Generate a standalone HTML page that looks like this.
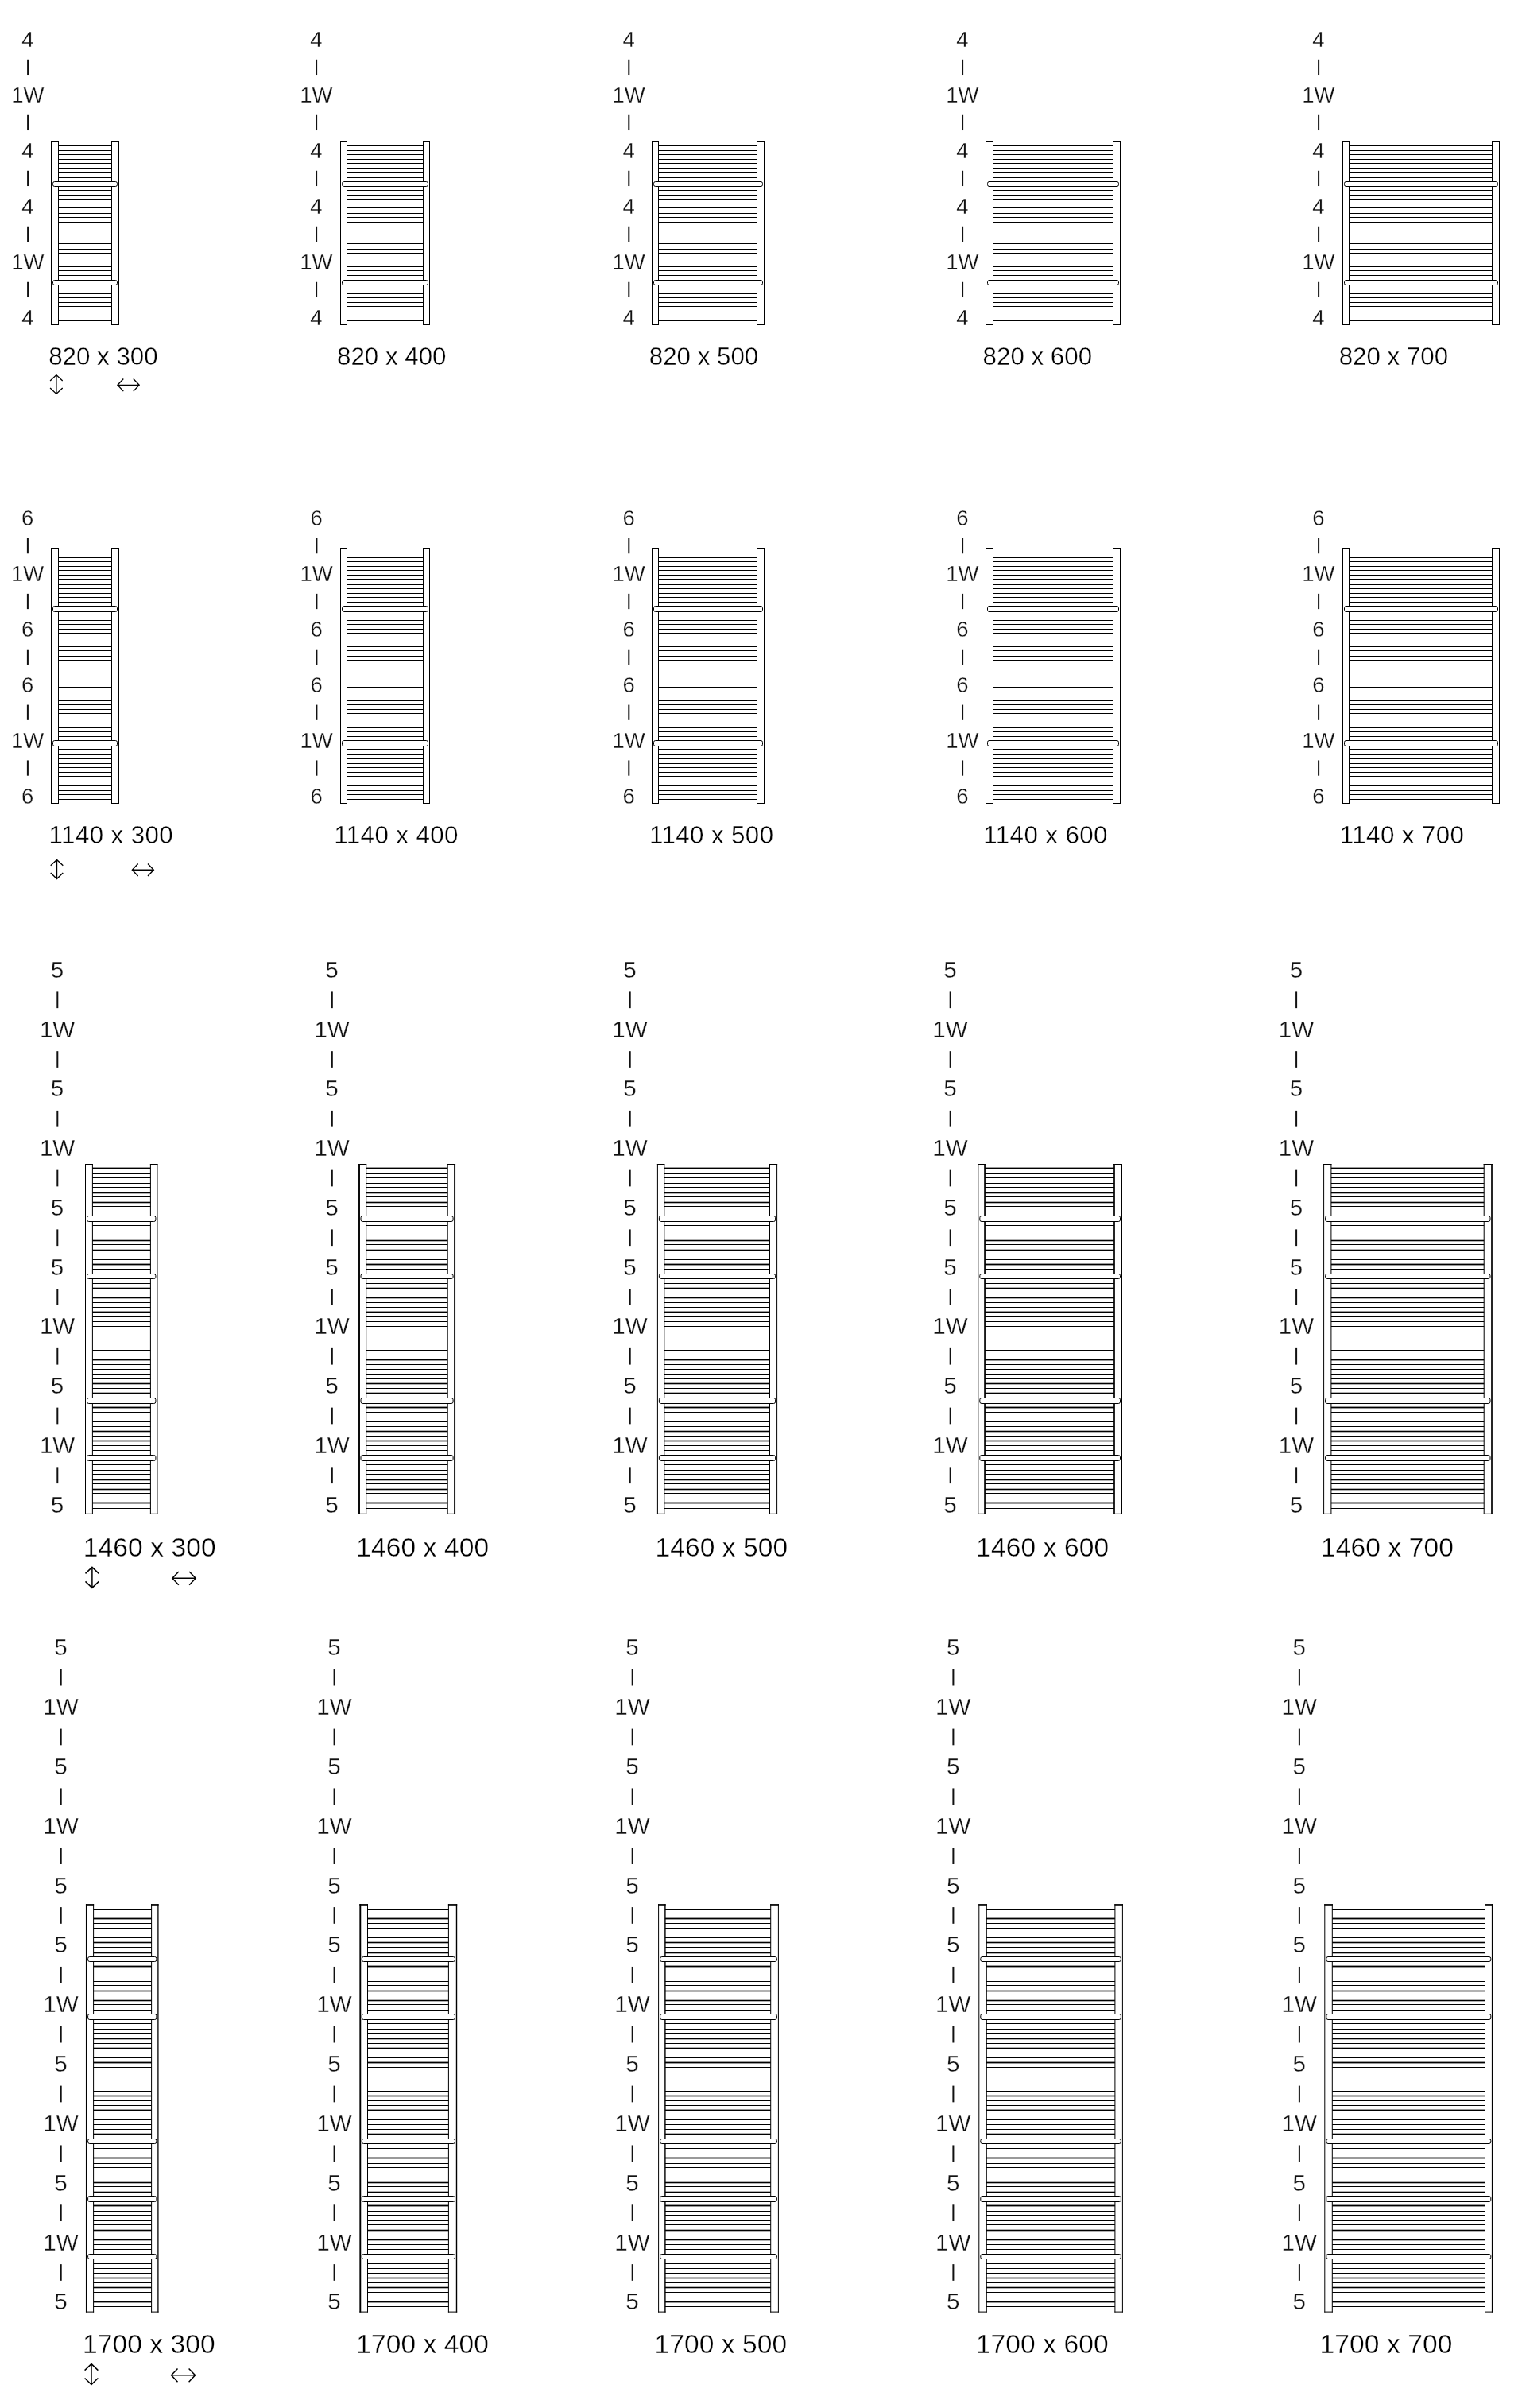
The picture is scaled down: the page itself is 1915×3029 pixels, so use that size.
<!DOCTYPE html>
<html lang="en">
<head>
<meta charset="utf-8">
<title>Towel radiator tube layouts</title>
<style>
html,body{margin:0;padding:0;background:#fff;}
body{position:relative;width:1915px;height:3029px;overflow:hidden;font-family:"Liberation Sans",sans-serif;}
svg{display:block;position:absolute;left:0;top:0;}
text{font-family:"Liberation Sans",sans-serif;fill:#111;}
g.t{filter:grayscale(1);}
text.lab{stroke:#fff;stroke-width:0.3px;}
text.dim{stroke:#fff;stroke-width:0.35px;fill:#000;}
</style>
</head>
<body>
<svg width="1915" height="3029" viewBox="0 0 1915 3029">
<rect x="0" y="0" width="1915" height="3029" fill="#fff"/>
<g>
<rect x="64" y="177" width="1" height="232" fill="#000"/>
<rect x="73" y="177" width="1" height="232" fill="#000"/>
<rect x="140" y="177" width="1" height="232" fill="#000"/>
<rect x="149" y="177" width="1" height="232" fill="#000"/>
<rect x="64" y="177" width="10" height="1" fill="#000"/>
<rect x="64" y="408" width="10" height="1" fill="#000"/>
<rect x="140" y="177" width="10" height="1" fill="#000"/>
<rect x="140" y="408" width="10" height="1" fill="#000"/>
<rect x="73.5" y="183" width="67" height="1" fill="#000"/>
<rect x="73.5" y="189" width="67" height="1" fill="#000"/>
<rect x="73.5" y="194" width="67" height="1" fill="#000"/>
<rect x="73.5" y="200" width="67" height="1" fill="#000"/>
<rect x="73.5" y="205" width="67" height="1" fill="#000"/>
<rect x="73.5" y="211" width="67" height="1" fill="#000"/>
<rect x="73.5" y="216" width="67" height="1" fill="#000"/>
<rect x="73.5" y="223" width="67" height="1" fill="#000"/>
<rect x="73.5" y="239" width="67" height="1" fill="#000"/>
<rect x="73.5" y="245" width="67" height="1" fill="#000"/>
<rect x="73.5" y="250" width="67" height="1" fill="#000"/>
<rect x="73.5" y="256" width="67" height="1" fill="#000"/>
<rect x="73.5" y="261" width="67" height="1" fill="#000"/>
<rect x="73.5" y="268" width="67" height="1" fill="#000"/>
<rect x="73.5" y="273" width="67" height="1" fill="#000"/>
<rect x="73.5" y="279" width="67" height="1" fill="#000"/>
<rect x="73.5" y="306" width="67" height="1" fill="#000"/>
<rect x="73.5" y="313" width="67" height="1" fill="#000"/>
<rect x="73.5" y="318" width="67" height="1" fill="#000"/>
<rect x="73.5" y="324" width="67" height="1" fill="#000"/>
<rect x="73.5" y="329" width="67" height="1" fill="#000"/>
<rect x="73.5" y="335" width="67" height="1" fill="#000"/>
<rect x="73.5" y="340" width="67" height="1" fill="#000"/>
<rect x="73.5" y="346" width="67" height="1" fill="#000"/>
<rect x="73.5" y="363" width="67" height="1" fill="#000"/>
<rect x="73.5" y="369" width="67" height="1" fill="#000"/>
<rect x="73.5" y="374" width="67" height="1" fill="#000"/>
<rect x="73.5" y="380" width="67" height="1" fill="#000"/>
<rect x="73.5" y="385" width="67" height="1" fill="#000"/>
<rect x="73.5" y="392" width="67" height="1" fill="#000"/>
<rect x="73.5" y="397" width="67" height="1" fill="#000"/>
<rect x="73.5" y="403" width="67" height="1" fill="#000"/>
<rect x="66.5" y="228.5" width="81" height="6" rx="2.2" ry="2.2" fill="#fff" stroke="#000" stroke-width="1"/>
<rect x="66.5" y="352.5" width="81" height="6" rx="2.2" ry="2.2" fill="#fff" stroke="#000" stroke-width="1"/>
<rect x="428" y="177" width="1" height="232" fill="#000"/>
<rect x="436" y="177" width="1" height="232" fill="#000"/>
<rect x="532" y="177" width="1" height="232" fill="#000"/>
<rect x="540" y="177" width="1" height="232" fill="#000"/>
<rect x="428" y="177" width="9" height="1" fill="#000"/>
<rect x="428" y="408" width="9" height="1" fill="#000"/>
<rect x="532" y="177" width="9" height="1" fill="#000"/>
<rect x="532" y="408" width="9" height="1" fill="#000"/>
<rect x="436.5" y="183" width="96" height="1" fill="#000"/>
<rect x="436.5" y="189" width="96" height="1" fill="#000"/>
<rect x="436.5" y="194" width="96" height="1" fill="#000"/>
<rect x="436.5" y="200" width="96" height="1" fill="#000"/>
<rect x="436.5" y="205" width="96" height="1" fill="#000"/>
<rect x="436.5" y="211" width="96" height="1" fill="#000"/>
<rect x="436.5" y="216" width="96" height="1" fill="#000"/>
<rect x="436.5" y="223" width="96" height="1" fill="#000"/>
<rect x="436.5" y="239" width="96" height="1" fill="#000"/>
<rect x="436.5" y="245" width="96" height="1" fill="#000"/>
<rect x="436.5" y="250" width="96" height="1" fill="#000"/>
<rect x="436.5" y="256" width="96" height="1" fill="#000"/>
<rect x="436.5" y="261" width="96" height="1" fill="#000"/>
<rect x="436.5" y="268" width="96" height="1" fill="#000"/>
<rect x="436.5" y="273" width="96" height="1" fill="#000"/>
<rect x="436.5" y="279" width="96" height="1" fill="#000"/>
<rect x="436.5" y="306" width="96" height="1" fill="#000"/>
<rect x="436.5" y="313" width="96" height="1" fill="#000"/>
<rect x="436.5" y="318" width="96" height="1" fill="#000"/>
<rect x="436.5" y="324" width="96" height="1" fill="#000"/>
<rect x="436.5" y="329" width="96" height="1" fill="#000"/>
<rect x="436.5" y="335" width="96" height="1" fill="#000"/>
<rect x="436.5" y="340" width="96" height="1" fill="#000"/>
<rect x="436.5" y="346" width="96" height="1" fill="#000"/>
<rect x="436.5" y="363" width="96" height="1" fill="#000"/>
<rect x="436.5" y="369" width="96" height="1" fill="#000"/>
<rect x="436.5" y="374" width="96" height="1" fill="#000"/>
<rect x="436.5" y="380" width="96" height="1" fill="#000"/>
<rect x="436.5" y="385" width="96" height="1" fill="#000"/>
<rect x="436.5" y="392" width="96" height="1" fill="#000"/>
<rect x="436.5" y="397" width="96" height="1" fill="#000"/>
<rect x="436.5" y="403" width="96" height="1" fill="#000"/>
<rect x="430.5" y="228.5" width="108" height="6" rx="2.2" ry="2.2" fill="#fff" stroke="#000" stroke-width="1"/>
<rect x="430.5" y="352.5" width="108" height="6" rx="2.2" ry="2.2" fill="#fff" stroke="#000" stroke-width="1"/>
<rect x="820" y="177" width="1" height="232" fill="#000"/>
<rect x="828" y="177" width="1" height="232" fill="#000"/>
<rect x="952" y="177" width="1" height="232" fill="#000"/>
<rect x="961" y="177" width="1" height="232" fill="#000"/>
<rect x="820" y="177" width="9" height="1" fill="#000"/>
<rect x="820" y="408" width="9" height="1" fill="#000"/>
<rect x="952" y="177" width="10" height="1" fill="#000"/>
<rect x="952" y="408" width="10" height="1" fill="#000"/>
<rect x="828.5" y="183" width="124" height="1" fill="#000"/>
<rect x="828.5" y="189" width="124" height="1" fill="#000"/>
<rect x="828.5" y="194" width="124" height="1" fill="#000"/>
<rect x="828.5" y="200" width="124" height="1" fill="#000"/>
<rect x="828.5" y="205" width="124" height="1" fill="#000"/>
<rect x="828.5" y="211" width="124" height="1" fill="#000"/>
<rect x="828.5" y="216" width="124" height="1" fill="#000"/>
<rect x="828.5" y="223" width="124" height="1" fill="#000"/>
<rect x="828.5" y="239" width="124" height="1" fill="#000"/>
<rect x="828.5" y="245" width="124" height="1" fill="#000"/>
<rect x="828.5" y="250" width="124" height="1" fill="#000"/>
<rect x="828.5" y="256" width="124" height="1" fill="#000"/>
<rect x="828.5" y="261" width="124" height="1" fill="#000"/>
<rect x="828.5" y="268" width="124" height="1" fill="#000"/>
<rect x="828.5" y="273" width="124" height="1" fill="#000"/>
<rect x="828.5" y="279" width="124" height="1" fill="#000"/>
<rect x="828.5" y="306" width="124" height="1" fill="#000"/>
<rect x="828.5" y="313" width="124" height="1" fill="#000"/>
<rect x="828.5" y="318" width="124" height="1" fill="#000"/>
<rect x="828.5" y="324" width="124" height="1" fill="#000"/>
<rect x="828.5" y="329" width="124" height="1" fill="#000"/>
<rect x="828.5" y="335" width="124" height="1" fill="#000"/>
<rect x="828.5" y="340" width="124" height="1" fill="#000"/>
<rect x="828.5" y="346" width="124" height="1" fill="#000"/>
<rect x="828.5" y="363" width="124" height="1" fill="#000"/>
<rect x="828.5" y="369" width="124" height="1" fill="#000"/>
<rect x="828.5" y="374" width="124" height="1" fill="#000"/>
<rect x="828.5" y="380" width="124" height="1" fill="#000"/>
<rect x="828.5" y="385" width="124" height="1" fill="#000"/>
<rect x="828.5" y="392" width="124" height="1" fill="#000"/>
<rect x="828.5" y="397" width="124" height="1" fill="#000"/>
<rect x="828.5" y="403" width="124" height="1" fill="#000"/>
<rect x="822.5" y="228.5" width="137" height="6" rx="2.2" ry="2.2" fill="#fff" stroke="#000" stroke-width="1"/>
<rect x="822.5" y="352.5" width="137" height="6" rx="2.2" ry="2.2" fill="#fff" stroke="#000" stroke-width="1"/>
<rect x="1240" y="177" width="1" height="232" fill="#000"/>
<rect x="1249" y="177" width="1" height="232" fill="#000"/>
<rect x="1400" y="177" width="1" height="232" fill="#000"/>
<rect x="1409" y="177" width="1" height="232" fill="#000"/>
<rect x="1240" y="177" width="10" height="1" fill="#000"/>
<rect x="1240" y="408" width="10" height="1" fill="#000"/>
<rect x="1400" y="177" width="10" height="1" fill="#000"/>
<rect x="1400" y="408" width="10" height="1" fill="#000"/>
<rect x="1249.5" y="183" width="151" height="1" fill="#000"/>
<rect x="1249.5" y="189" width="151" height="1" fill="#000"/>
<rect x="1249.5" y="194" width="151" height="1" fill="#000"/>
<rect x="1249.5" y="200" width="151" height="1" fill="#000"/>
<rect x="1249.5" y="205" width="151" height="1" fill="#000"/>
<rect x="1249.5" y="211" width="151" height="1" fill="#000"/>
<rect x="1249.5" y="216" width="151" height="1" fill="#000"/>
<rect x="1249.5" y="223" width="151" height="1" fill="#000"/>
<rect x="1249.5" y="239" width="151" height="1" fill="#000"/>
<rect x="1249.5" y="245" width="151" height="1" fill="#000"/>
<rect x="1249.5" y="250" width="151" height="1" fill="#000"/>
<rect x="1249.5" y="256" width="151" height="1" fill="#000"/>
<rect x="1249.5" y="261" width="151" height="1" fill="#000"/>
<rect x="1249.5" y="268" width="151" height="1" fill="#000"/>
<rect x="1249.5" y="273" width="151" height="1" fill="#000"/>
<rect x="1249.5" y="279" width="151" height="1" fill="#000"/>
<rect x="1249.5" y="306" width="151" height="1" fill="#000"/>
<rect x="1249.5" y="313" width="151" height="1" fill="#000"/>
<rect x="1249.5" y="318" width="151" height="1" fill="#000"/>
<rect x="1249.5" y="324" width="151" height="1" fill="#000"/>
<rect x="1249.5" y="329" width="151" height="1" fill="#000"/>
<rect x="1249.5" y="335" width="151" height="1" fill="#000"/>
<rect x="1249.5" y="340" width="151" height="1" fill="#000"/>
<rect x="1249.5" y="346" width="151" height="1" fill="#000"/>
<rect x="1249.5" y="363" width="151" height="1" fill="#000"/>
<rect x="1249.5" y="369" width="151" height="1" fill="#000"/>
<rect x="1249.5" y="374" width="151" height="1" fill="#000"/>
<rect x="1249.5" y="380" width="151" height="1" fill="#000"/>
<rect x="1249.5" y="385" width="151" height="1" fill="#000"/>
<rect x="1249.5" y="392" width="151" height="1" fill="#000"/>
<rect x="1249.5" y="397" width="151" height="1" fill="#000"/>
<rect x="1249.5" y="403" width="151" height="1" fill="#000"/>
<rect x="1242.5" y="228.5" width="165" height="6" rx="2.2" ry="2.2" fill="#fff" stroke="#000" stroke-width="1"/>
<rect x="1242.5" y="352.5" width="165" height="6" rx="2.2" ry="2.2" fill="#fff" stroke="#000" stroke-width="1"/>
<rect x="1689" y="177" width="1" height="232" fill="#000"/>
<rect x="1697" y="177" width="1" height="232" fill="#000"/>
<rect x="1877" y="177" width="1" height="232" fill="#000"/>
<rect x="1886" y="177" width="1" height="232" fill="#000"/>
<rect x="1689" y="177" width="9" height="1" fill="#000"/>
<rect x="1689" y="408" width="9" height="1" fill="#000"/>
<rect x="1877" y="177" width="10" height="1" fill="#000"/>
<rect x="1877" y="408" width="10" height="1" fill="#000"/>
<rect x="1697.5" y="183" width="180" height="1" fill="#000"/>
<rect x="1697.5" y="189" width="180" height="1" fill="#000"/>
<rect x="1697.5" y="194" width="180" height="1" fill="#000"/>
<rect x="1697.5" y="200" width="180" height="1" fill="#000"/>
<rect x="1697.5" y="205" width="180" height="1" fill="#000"/>
<rect x="1697.5" y="211" width="180" height="1" fill="#000"/>
<rect x="1697.5" y="216" width="180" height="1" fill="#000"/>
<rect x="1697.5" y="223" width="180" height="1" fill="#000"/>
<rect x="1697.5" y="239" width="180" height="1" fill="#000"/>
<rect x="1697.5" y="245" width="180" height="1" fill="#000"/>
<rect x="1697.5" y="250" width="180" height="1" fill="#000"/>
<rect x="1697.5" y="256" width="180" height="1" fill="#000"/>
<rect x="1697.5" y="261" width="180" height="1" fill="#000"/>
<rect x="1697.5" y="268" width="180" height="1" fill="#000"/>
<rect x="1697.5" y="273" width="180" height="1" fill="#000"/>
<rect x="1697.5" y="279" width="180" height="1" fill="#000"/>
<rect x="1697.5" y="306" width="180" height="1" fill="#000"/>
<rect x="1697.5" y="313" width="180" height="1" fill="#000"/>
<rect x="1697.5" y="318" width="180" height="1" fill="#000"/>
<rect x="1697.5" y="324" width="180" height="1" fill="#000"/>
<rect x="1697.5" y="329" width="180" height="1" fill="#000"/>
<rect x="1697.5" y="335" width="180" height="1" fill="#000"/>
<rect x="1697.5" y="340" width="180" height="1" fill="#000"/>
<rect x="1697.5" y="346" width="180" height="1" fill="#000"/>
<rect x="1697.5" y="363" width="180" height="1" fill="#000"/>
<rect x="1697.5" y="369" width="180" height="1" fill="#000"/>
<rect x="1697.5" y="374" width="180" height="1" fill="#000"/>
<rect x="1697.5" y="380" width="180" height="1" fill="#000"/>
<rect x="1697.5" y="385" width="180" height="1" fill="#000"/>
<rect x="1697.5" y="392" width="180" height="1" fill="#000"/>
<rect x="1697.5" y="397" width="180" height="1" fill="#000"/>
<rect x="1697.5" y="403" width="180" height="1" fill="#000"/>
<rect x="1691.5" y="228.5" width="193" height="6" rx="2.2" ry="2.2" fill="#fff" stroke="#000" stroke-width="1"/>
<rect x="1691.5" y="352.5" width="193" height="6" rx="2.2" ry="2.2" fill="#fff" stroke="#000" stroke-width="1"/>
</g>
<g class="t">
<text class="lab" x="34.9" y="59.02" font-size="27.5" text-anchor="middle">4</text>
<rect x="34.1" y="74.78" width="2" height="19.25" fill="#111"/>
<text class="lab" x="34.9" y="129.03" font-size="27.5" text-anchor="middle">1W</text>
<rect x="34.1" y="144.78" width="2" height="19.25" fill="#111"/>
<text class="lab" x="34.9" y="199.03" font-size="27.5" text-anchor="middle">4</text>
<rect x="34.1" y="214.78" width="2" height="19.25" fill="#111"/>
<text class="lab" x="34.9" y="269.02" font-size="27.5" text-anchor="middle">4</text>
<rect x="34.1" y="284.77" width="2" height="19.25" fill="#111"/>
<text class="lab" x="34.9" y="339.02" font-size="27.5" text-anchor="middle">1W</text>
<rect x="34.1" y="354.77" width="2" height="19.25" fill="#111"/>
<text class="lab" x="34.9" y="409.02" font-size="27.5" text-anchor="middle">4</text>
<text class="dim" x="61.19" y="458.95" font-size="31.3" letter-spacing="0">820 x 300</text>
<text class="lab" x="397.9" y="59.02" font-size="27.5" text-anchor="middle">4</text>
<rect x="397.1" y="74.78" width="2" height="19.25" fill="#111"/>
<text class="lab" x="397.9" y="129.03" font-size="27.5" text-anchor="middle">1W</text>
<rect x="397.1" y="144.78" width="2" height="19.25" fill="#111"/>
<text class="lab" x="397.9" y="199.03" font-size="27.5" text-anchor="middle">4</text>
<rect x="397.1" y="214.78" width="2" height="19.25" fill="#111"/>
<text class="lab" x="397.9" y="269.02" font-size="27.5" text-anchor="middle">4</text>
<rect x="397.1" y="284.77" width="2" height="19.25" fill="#111"/>
<text class="lab" x="397.9" y="339.02" font-size="27.5" text-anchor="middle">1W</text>
<rect x="397.1" y="354.77" width="2" height="19.25" fill="#111"/>
<text class="lab" x="397.9" y="409.02" font-size="27.5" text-anchor="middle">4</text>
<text class="dim" x="423.99" y="458.95" font-size="31.3" letter-spacing="0">820 x 400</text>
<text class="lab" x="791.1" y="59.02" font-size="27.5" text-anchor="middle">4</text>
<rect x="790.3" y="74.78" width="2" height="19.25" fill="#111"/>
<text class="lab" x="791.1" y="129.03" font-size="27.5" text-anchor="middle">1W</text>
<rect x="790.3" y="144.78" width="2" height="19.25" fill="#111"/>
<text class="lab" x="791.1" y="199.03" font-size="27.5" text-anchor="middle">4</text>
<rect x="790.3" y="214.78" width="2" height="19.25" fill="#111"/>
<text class="lab" x="791.1" y="269.02" font-size="27.5" text-anchor="middle">4</text>
<rect x="790.3" y="284.77" width="2" height="19.25" fill="#111"/>
<text class="lab" x="791.1" y="339.02" font-size="27.5" text-anchor="middle">1W</text>
<rect x="790.3" y="354.77" width="2" height="19.25" fill="#111"/>
<text class="lab" x="791.1" y="409.02" font-size="27.5" text-anchor="middle">4</text>
<text class="dim" x="816.79" y="458.95" font-size="31.3" letter-spacing="0">820 x 500</text>
<text class="lab" x="1210.9" y="59.02" font-size="27.5" text-anchor="middle">4</text>
<rect x="1210.1" y="74.78" width="2" height="19.25" fill="#111"/>
<text class="lab" x="1210.9" y="129.03" font-size="27.5" text-anchor="middle">1W</text>
<rect x="1210.1" y="144.78" width="2" height="19.25" fill="#111"/>
<text class="lab" x="1210.9" y="199.03" font-size="27.5" text-anchor="middle">4</text>
<rect x="1210.1" y="214.78" width="2" height="19.25" fill="#111"/>
<text class="lab" x="1210.9" y="269.02" font-size="27.5" text-anchor="middle">4</text>
<rect x="1210.1" y="284.77" width="2" height="19.25" fill="#111"/>
<text class="lab" x="1210.9" y="339.02" font-size="27.5" text-anchor="middle">1W</text>
<rect x="1210.1" y="354.77" width="2" height="19.25" fill="#111"/>
<text class="lab" x="1210.9" y="409.02" font-size="27.5" text-anchor="middle">4</text>
<text class="dim" x="1236.59" y="458.95" font-size="31.3" letter-spacing="0">820 x 600</text>
<text class="lab" x="1658.9" y="59.02" font-size="27.5" text-anchor="middle">4</text>
<rect x="1658.1" y="74.78" width="2" height="19.25" fill="#111"/>
<text class="lab" x="1658.9" y="129.03" font-size="27.5" text-anchor="middle">1W</text>
<rect x="1658.1" y="144.78" width="2" height="19.25" fill="#111"/>
<text class="lab" x="1658.9" y="199.03" font-size="27.5" text-anchor="middle">4</text>
<rect x="1658.1" y="214.78" width="2" height="19.25" fill="#111"/>
<text class="lab" x="1658.9" y="269.02" font-size="27.5" text-anchor="middle">4</text>
<rect x="1658.1" y="284.77" width="2" height="19.25" fill="#111"/>
<text class="lab" x="1658.9" y="339.02" font-size="27.5" text-anchor="middle">1W</text>
<rect x="1658.1" y="354.77" width="2" height="19.25" fill="#111"/>
<text class="lab" x="1658.9" y="409.02" font-size="27.5" text-anchor="middle">4</text>
<text class="dim" x="1684.69" y="458.95" font-size="31.3" letter-spacing="0">820 x 700</text>
<path d="M70.9 471.8V495.2M63.1 479L70.9 471.6L78.7 479M63.1 488L70.9 495.4L78.7 488M148.1 484.3H175M155.3 476.5L147.9 484.3L155.3 492.1M167.8 476.5L175.2 484.3L167.8 492.1" fill="none" stroke="#000" stroke-width="1.35" stroke-linejoin="miter"/>
</g>
<g>
<rect x="64" y="689" width="1" height="322" fill="#000"/>
<rect x="73" y="689" width="1" height="322" fill="#000"/>
<rect x="140" y="689" width="1" height="322" fill="#000"/>
<rect x="149" y="689" width="1" height="322" fill="#000"/>
<rect x="64" y="689" width="10" height="1" fill="#000"/>
<rect x="64" y="1010" width="10" height="1" fill="#000"/>
<rect x="140" y="689" width="10" height="1" fill="#000"/>
<rect x="140" y="1010" width="10" height="1" fill="#000"/>
<rect x="73.5" y="695" width="67" height="1" fill="#000"/>
<rect x="73.5" y="701" width="67" height="1" fill="#000"/>
<rect x="73.5" y="706" width="67" height="1" fill="#000"/>
<rect x="73.5" y="712" width="67" height="1" fill="#000"/>
<rect x="73.5" y="717" width="67" height="1" fill="#000"/>
<rect x="73.5" y="723" width="67" height="1" fill="#000"/>
<rect x="73.5" y="728" width="67" height="1" fill="#000"/>
<rect x="73.5" y="735" width="67" height="1" fill="#000"/>
<rect x="73.5" y="740" width="67" height="1" fill="#000"/>
<rect x="73.5" y="746" width="67" height="1" fill="#000"/>
<rect x="73.5" y="751" width="67" height="1" fill="#000"/>
<rect x="73.5" y="757" width="67" height="1" fill="#000"/>
<rect x="73.5" y="773" width="67" height="1" fill="#000"/>
<rect x="73.5" y="780" width="67" height="1" fill="#000"/>
<rect x="73.5" y="785" width="67" height="1" fill="#000"/>
<rect x="73.5" y="791" width="67" height="1" fill="#000"/>
<rect x="73.5" y="796" width="67" height="1" fill="#000"/>
<rect x="73.5" y="802" width="67" height="1" fill="#000"/>
<rect x="73.5" y="807" width="67" height="1" fill="#000"/>
<rect x="73.5" y="813" width="67" height="1" fill="#000"/>
<rect x="73.5" y="818" width="67" height="1" fill="#000"/>
<rect x="73.5" y="825" width="67" height="1" fill="#000"/>
<rect x="73.5" y="830" width="67" height="1" fill="#000"/>
<rect x="73.5" y="836" width="67" height="1" fill="#000"/>
<rect x="73.5" y="864" width="67" height="1" fill="#000"/>
<rect x="73.5" y="870" width="67" height="1" fill="#000"/>
<rect x="73.5" y="875" width="67" height="1" fill="#000"/>
<rect x="73.5" y="881" width="67" height="1" fill="#000"/>
<rect x="73.5" y="886" width="67" height="1" fill="#000"/>
<rect x="73.5" y="892" width="67" height="1" fill="#000"/>
<rect x="73.5" y="897" width="67" height="1" fill="#000"/>
<rect x="73.5" y="904" width="67" height="1" fill="#000"/>
<rect x="73.5" y="909" width="67" height="1" fill="#000"/>
<rect x="73.5" y="915" width="67" height="1" fill="#000"/>
<rect x="73.5" y="920" width="67" height="1" fill="#000"/>
<rect x="73.5" y="926" width="67" height="1" fill="#000"/>
<rect x="73.5" y="942" width="67" height="1" fill="#000"/>
<rect x="73.5" y="949" width="67" height="1" fill="#000"/>
<rect x="73.5" y="954" width="67" height="1" fill="#000"/>
<rect x="73.5" y="960" width="67" height="1" fill="#000"/>
<rect x="73.5" y="965" width="67" height="1" fill="#000"/>
<rect x="73.5" y="971" width="67" height="1" fill="#000"/>
<rect x="73.5" y="976" width="67" height="1" fill="#000"/>
<rect x="73.5" y="982" width="67" height="1" fill="#000"/>
<rect x="73.5" y="988" width="67" height="1" fill="#000"/>
<rect x="73.5" y="994" width="67" height="1" fill="#000"/>
<rect x="73.5" y="999" width="67" height="1" fill="#000"/>
<rect x="73.5" y="1005" width="67" height="1" fill="#000"/>
<rect x="66.5" y="762.5" width="81" height="7" rx="2.2" ry="2.2" fill="#fff" stroke="#000" stroke-width="1"/>
<rect x="66.5" y="931.5" width="81" height="7" rx="2.2" ry="2.2" fill="#fff" stroke="#000" stroke-width="1"/>
<rect x="428" y="689" width="1" height="322" fill="#000"/>
<rect x="436" y="689" width="1" height="322" fill="#000"/>
<rect x="532" y="689" width="1" height="322" fill="#000"/>
<rect x="540" y="689" width="1" height="322" fill="#000"/>
<rect x="428" y="689" width="9" height="1" fill="#000"/>
<rect x="428" y="1010" width="9" height="1" fill="#000"/>
<rect x="532" y="689" width="9" height="1" fill="#000"/>
<rect x="532" y="1010" width="9" height="1" fill="#000"/>
<rect x="436.5" y="695" width="96" height="1" fill="#000"/>
<rect x="436.5" y="701" width="96" height="1" fill="#000"/>
<rect x="436.5" y="706" width="96" height="1" fill="#000"/>
<rect x="436.5" y="712" width="96" height="1" fill="#000"/>
<rect x="436.5" y="717" width="96" height="1" fill="#000"/>
<rect x="436.5" y="723" width="96" height="1" fill="#000"/>
<rect x="436.5" y="728" width="96" height="1" fill="#000"/>
<rect x="436.5" y="735" width="96" height="1" fill="#000"/>
<rect x="436.5" y="740" width="96" height="1" fill="#000"/>
<rect x="436.5" y="746" width="96" height="1" fill="#000"/>
<rect x="436.5" y="751" width="96" height="1" fill="#000"/>
<rect x="436.5" y="757" width="96" height="1" fill="#000"/>
<rect x="436.5" y="773" width="96" height="1" fill="#000"/>
<rect x="436.5" y="780" width="96" height="1" fill="#000"/>
<rect x="436.5" y="785" width="96" height="1" fill="#000"/>
<rect x="436.5" y="791" width="96" height="1" fill="#000"/>
<rect x="436.5" y="796" width="96" height="1" fill="#000"/>
<rect x="436.5" y="802" width="96" height="1" fill="#000"/>
<rect x="436.5" y="807" width="96" height="1" fill="#000"/>
<rect x="436.5" y="813" width="96" height="1" fill="#000"/>
<rect x="436.5" y="818" width="96" height="1" fill="#000"/>
<rect x="436.5" y="825" width="96" height="1" fill="#000"/>
<rect x="436.5" y="830" width="96" height="1" fill="#000"/>
<rect x="436.5" y="836" width="96" height="1" fill="#000"/>
<rect x="436.5" y="864" width="96" height="1" fill="#000"/>
<rect x="436.5" y="870" width="96" height="1" fill="#000"/>
<rect x="436.5" y="875" width="96" height="1" fill="#000"/>
<rect x="436.5" y="881" width="96" height="1" fill="#000"/>
<rect x="436.5" y="886" width="96" height="1" fill="#000"/>
<rect x="436.5" y="892" width="96" height="1" fill="#000"/>
<rect x="436.5" y="897" width="96" height="1" fill="#000"/>
<rect x="436.5" y="904" width="96" height="1" fill="#000"/>
<rect x="436.5" y="909" width="96" height="1" fill="#000"/>
<rect x="436.5" y="915" width="96" height="1" fill="#000"/>
<rect x="436.5" y="920" width="96" height="1" fill="#000"/>
<rect x="436.5" y="926" width="96" height="1" fill="#000"/>
<rect x="436.5" y="942" width="96" height="1" fill="#000"/>
<rect x="436.5" y="949" width="96" height="1" fill="#000"/>
<rect x="436.5" y="954" width="96" height="1" fill="#000"/>
<rect x="436.5" y="960" width="96" height="1" fill="#000"/>
<rect x="436.5" y="965" width="96" height="1" fill="#000"/>
<rect x="436.5" y="971" width="96" height="1" fill="#000"/>
<rect x="436.5" y="976" width="96" height="1" fill="#000"/>
<rect x="436.5" y="982" width="96" height="1" fill="#000"/>
<rect x="436.5" y="988" width="96" height="1" fill="#000"/>
<rect x="436.5" y="994" width="96" height="1" fill="#000"/>
<rect x="436.5" y="999" width="96" height="1" fill="#000"/>
<rect x="436.5" y="1005" width="96" height="1" fill="#000"/>
<rect x="430.5" y="762.5" width="108" height="7" rx="2.2" ry="2.2" fill="#fff" stroke="#000" stroke-width="1"/>
<rect x="430.5" y="931.5" width="108" height="7" rx="2.2" ry="2.2" fill="#fff" stroke="#000" stroke-width="1"/>
<rect x="820" y="689" width="1" height="322" fill="#000"/>
<rect x="828" y="689" width="1" height="322" fill="#000"/>
<rect x="952" y="689" width="1" height="322" fill="#000"/>
<rect x="961" y="689" width="1" height="322" fill="#000"/>
<rect x="820" y="689" width="9" height="1" fill="#000"/>
<rect x="820" y="1010" width="9" height="1" fill="#000"/>
<rect x="952" y="689" width="10" height="1" fill="#000"/>
<rect x="952" y="1010" width="10" height="1" fill="#000"/>
<rect x="828.5" y="695" width="124" height="1" fill="#000"/>
<rect x="828.5" y="701" width="124" height="1" fill="#000"/>
<rect x="828.5" y="706" width="124" height="1" fill="#000"/>
<rect x="828.5" y="712" width="124" height="1" fill="#000"/>
<rect x="828.5" y="717" width="124" height="1" fill="#000"/>
<rect x="828.5" y="723" width="124" height="1" fill="#000"/>
<rect x="828.5" y="728" width="124" height="1" fill="#000"/>
<rect x="828.5" y="735" width="124" height="1" fill="#000"/>
<rect x="828.5" y="740" width="124" height="1" fill="#000"/>
<rect x="828.5" y="746" width="124" height="1" fill="#000"/>
<rect x="828.5" y="751" width="124" height="1" fill="#000"/>
<rect x="828.5" y="757" width="124" height="1" fill="#000"/>
<rect x="828.5" y="773" width="124" height="1" fill="#000"/>
<rect x="828.5" y="780" width="124" height="1" fill="#000"/>
<rect x="828.5" y="785" width="124" height="1" fill="#000"/>
<rect x="828.5" y="791" width="124" height="1" fill="#000"/>
<rect x="828.5" y="796" width="124" height="1" fill="#000"/>
<rect x="828.5" y="802" width="124" height="1" fill="#000"/>
<rect x="828.5" y="807" width="124" height="1" fill="#000"/>
<rect x="828.5" y="813" width="124" height="1" fill="#000"/>
<rect x="828.5" y="818" width="124" height="1" fill="#000"/>
<rect x="828.5" y="825" width="124" height="1" fill="#000"/>
<rect x="828.5" y="830" width="124" height="1" fill="#000"/>
<rect x="828.5" y="836" width="124" height="1" fill="#000"/>
<rect x="828.5" y="864" width="124" height="1" fill="#000"/>
<rect x="828.5" y="870" width="124" height="1" fill="#000"/>
<rect x="828.5" y="875" width="124" height="1" fill="#000"/>
<rect x="828.5" y="881" width="124" height="1" fill="#000"/>
<rect x="828.5" y="886" width="124" height="1" fill="#000"/>
<rect x="828.5" y="892" width="124" height="1" fill="#000"/>
<rect x="828.5" y="897" width="124" height="1" fill="#000"/>
<rect x="828.5" y="904" width="124" height="1" fill="#000"/>
<rect x="828.5" y="909" width="124" height="1" fill="#000"/>
<rect x="828.5" y="915" width="124" height="1" fill="#000"/>
<rect x="828.5" y="920" width="124" height="1" fill="#000"/>
<rect x="828.5" y="926" width="124" height="1" fill="#000"/>
<rect x="828.5" y="942" width="124" height="1" fill="#000"/>
<rect x="828.5" y="949" width="124" height="1" fill="#000"/>
<rect x="828.5" y="954" width="124" height="1" fill="#000"/>
<rect x="828.5" y="960" width="124" height="1" fill="#000"/>
<rect x="828.5" y="965" width="124" height="1" fill="#000"/>
<rect x="828.5" y="971" width="124" height="1" fill="#000"/>
<rect x="828.5" y="976" width="124" height="1" fill="#000"/>
<rect x="828.5" y="982" width="124" height="1" fill="#000"/>
<rect x="828.5" y="988" width="124" height="1" fill="#000"/>
<rect x="828.5" y="994" width="124" height="1" fill="#000"/>
<rect x="828.5" y="999" width="124" height="1" fill="#000"/>
<rect x="828.5" y="1005" width="124" height="1" fill="#000"/>
<rect x="822.5" y="762.5" width="137" height="7" rx="2.2" ry="2.2" fill="#fff" stroke="#000" stroke-width="1"/>
<rect x="822.5" y="931.5" width="137" height="7" rx="2.2" ry="2.2" fill="#fff" stroke="#000" stroke-width="1"/>
<rect x="1240" y="689" width="1" height="322" fill="#000"/>
<rect x="1249" y="689" width="1" height="322" fill="#000"/>
<rect x="1400" y="689" width="1" height="322" fill="#000"/>
<rect x="1409" y="689" width="1" height="322" fill="#000"/>
<rect x="1240" y="689" width="10" height="1" fill="#000"/>
<rect x="1240" y="1010" width="10" height="1" fill="#000"/>
<rect x="1400" y="689" width="10" height="1" fill="#000"/>
<rect x="1400" y="1010" width="10" height="1" fill="#000"/>
<rect x="1249.5" y="695" width="151" height="1" fill="#000"/>
<rect x="1249.5" y="701" width="151" height="1" fill="#000"/>
<rect x="1249.5" y="706" width="151" height="1" fill="#000"/>
<rect x="1249.5" y="712" width="151" height="1" fill="#000"/>
<rect x="1249.5" y="717" width="151" height="1" fill="#000"/>
<rect x="1249.5" y="723" width="151" height="1" fill="#000"/>
<rect x="1249.5" y="728" width="151" height="1" fill="#000"/>
<rect x="1249.5" y="735" width="151" height="1" fill="#000"/>
<rect x="1249.5" y="740" width="151" height="1" fill="#000"/>
<rect x="1249.5" y="746" width="151" height="1" fill="#000"/>
<rect x="1249.5" y="751" width="151" height="1" fill="#000"/>
<rect x="1249.5" y="757" width="151" height="1" fill="#000"/>
<rect x="1249.5" y="773" width="151" height="1" fill="#000"/>
<rect x="1249.5" y="780" width="151" height="1" fill="#000"/>
<rect x="1249.5" y="785" width="151" height="1" fill="#000"/>
<rect x="1249.5" y="791" width="151" height="1" fill="#000"/>
<rect x="1249.5" y="796" width="151" height="1" fill="#000"/>
<rect x="1249.5" y="802" width="151" height="1" fill="#000"/>
<rect x="1249.5" y="807" width="151" height="1" fill="#000"/>
<rect x="1249.5" y="813" width="151" height="1" fill="#000"/>
<rect x="1249.5" y="818" width="151" height="1" fill="#000"/>
<rect x="1249.5" y="825" width="151" height="1" fill="#000"/>
<rect x="1249.5" y="830" width="151" height="1" fill="#000"/>
<rect x="1249.5" y="836" width="151" height="1" fill="#000"/>
<rect x="1249.5" y="864" width="151" height="1" fill="#000"/>
<rect x="1249.5" y="870" width="151" height="1" fill="#000"/>
<rect x="1249.5" y="875" width="151" height="1" fill="#000"/>
<rect x="1249.5" y="881" width="151" height="1" fill="#000"/>
<rect x="1249.5" y="886" width="151" height="1" fill="#000"/>
<rect x="1249.5" y="892" width="151" height="1" fill="#000"/>
<rect x="1249.5" y="897" width="151" height="1" fill="#000"/>
<rect x="1249.5" y="904" width="151" height="1" fill="#000"/>
<rect x="1249.5" y="909" width="151" height="1" fill="#000"/>
<rect x="1249.5" y="915" width="151" height="1" fill="#000"/>
<rect x="1249.5" y="920" width="151" height="1" fill="#000"/>
<rect x="1249.5" y="926" width="151" height="1" fill="#000"/>
<rect x="1249.5" y="942" width="151" height="1" fill="#000"/>
<rect x="1249.5" y="949" width="151" height="1" fill="#000"/>
<rect x="1249.5" y="954" width="151" height="1" fill="#000"/>
<rect x="1249.5" y="960" width="151" height="1" fill="#000"/>
<rect x="1249.5" y="965" width="151" height="1" fill="#000"/>
<rect x="1249.5" y="971" width="151" height="1" fill="#000"/>
<rect x="1249.5" y="976" width="151" height="1" fill="#000"/>
<rect x="1249.5" y="982" width="151" height="1" fill="#000"/>
<rect x="1249.5" y="988" width="151" height="1" fill="#000"/>
<rect x="1249.5" y="994" width="151" height="1" fill="#000"/>
<rect x="1249.5" y="999" width="151" height="1" fill="#000"/>
<rect x="1249.5" y="1005" width="151" height="1" fill="#000"/>
<rect x="1242.5" y="762.5" width="165" height="7" rx="2.2" ry="2.2" fill="#fff" stroke="#000" stroke-width="1"/>
<rect x="1242.5" y="931.5" width="165" height="7" rx="2.2" ry="2.2" fill="#fff" stroke="#000" stroke-width="1"/>
<rect x="1689" y="689" width="1" height="322" fill="#000"/>
<rect x="1697" y="689" width="1" height="322" fill="#000"/>
<rect x="1877" y="689" width="1" height="322" fill="#000"/>
<rect x="1886" y="689" width="1" height="322" fill="#000"/>
<rect x="1689" y="689" width="9" height="1" fill="#000"/>
<rect x="1689" y="1010" width="9" height="1" fill="#000"/>
<rect x="1877" y="689" width="10" height="1" fill="#000"/>
<rect x="1877" y="1010" width="10" height="1" fill="#000"/>
<rect x="1697.5" y="695" width="180" height="1" fill="#000"/>
<rect x="1697.5" y="701" width="180" height="1" fill="#000"/>
<rect x="1697.5" y="706" width="180" height="1" fill="#000"/>
<rect x="1697.5" y="712" width="180" height="1" fill="#000"/>
<rect x="1697.5" y="717" width="180" height="1" fill="#000"/>
<rect x="1697.5" y="723" width="180" height="1" fill="#000"/>
<rect x="1697.5" y="728" width="180" height="1" fill="#000"/>
<rect x="1697.5" y="735" width="180" height="1" fill="#000"/>
<rect x="1697.5" y="740" width="180" height="1" fill="#000"/>
<rect x="1697.5" y="746" width="180" height="1" fill="#000"/>
<rect x="1697.5" y="751" width="180" height="1" fill="#000"/>
<rect x="1697.5" y="757" width="180" height="1" fill="#000"/>
<rect x="1697.5" y="773" width="180" height="1" fill="#000"/>
<rect x="1697.5" y="780" width="180" height="1" fill="#000"/>
<rect x="1697.5" y="785" width="180" height="1" fill="#000"/>
<rect x="1697.5" y="791" width="180" height="1" fill="#000"/>
<rect x="1697.5" y="796" width="180" height="1" fill="#000"/>
<rect x="1697.5" y="802" width="180" height="1" fill="#000"/>
<rect x="1697.5" y="807" width="180" height="1" fill="#000"/>
<rect x="1697.5" y="813" width="180" height="1" fill="#000"/>
<rect x="1697.5" y="818" width="180" height="1" fill="#000"/>
<rect x="1697.5" y="825" width="180" height="1" fill="#000"/>
<rect x="1697.5" y="830" width="180" height="1" fill="#000"/>
<rect x="1697.5" y="836" width="180" height="1" fill="#000"/>
<rect x="1697.5" y="864" width="180" height="1" fill="#000"/>
<rect x="1697.5" y="870" width="180" height="1" fill="#000"/>
<rect x="1697.5" y="875" width="180" height="1" fill="#000"/>
<rect x="1697.5" y="881" width="180" height="1" fill="#000"/>
<rect x="1697.5" y="886" width="180" height="1" fill="#000"/>
<rect x="1697.5" y="892" width="180" height="1" fill="#000"/>
<rect x="1697.5" y="897" width="180" height="1" fill="#000"/>
<rect x="1697.5" y="904" width="180" height="1" fill="#000"/>
<rect x="1697.5" y="909" width="180" height="1" fill="#000"/>
<rect x="1697.5" y="915" width="180" height="1" fill="#000"/>
<rect x="1697.5" y="920" width="180" height="1" fill="#000"/>
<rect x="1697.5" y="926" width="180" height="1" fill="#000"/>
<rect x="1697.5" y="942" width="180" height="1" fill="#000"/>
<rect x="1697.5" y="949" width="180" height="1" fill="#000"/>
<rect x="1697.5" y="954" width="180" height="1" fill="#000"/>
<rect x="1697.5" y="960" width="180" height="1" fill="#000"/>
<rect x="1697.5" y="965" width="180" height="1" fill="#000"/>
<rect x="1697.5" y="971" width="180" height="1" fill="#000"/>
<rect x="1697.5" y="976" width="180" height="1" fill="#000"/>
<rect x="1697.5" y="982" width="180" height="1" fill="#000"/>
<rect x="1697.5" y="988" width="180" height="1" fill="#000"/>
<rect x="1697.5" y="994" width="180" height="1" fill="#000"/>
<rect x="1697.5" y="999" width="180" height="1" fill="#000"/>
<rect x="1697.5" y="1005" width="180" height="1" fill="#000"/>
<rect x="1691.5" y="762.5" width="193" height="7" rx="2.2" ry="2.2" fill="#fff" stroke="#000" stroke-width="1"/>
<rect x="1691.5" y="931.5" width="193" height="7" rx="2.2" ry="2.2" fill="#fff" stroke="#000" stroke-width="1"/>
</g>
<g class="t">
<text class="lab" x="34.7" y="661.33" font-size="27.5" text-anchor="middle">6</text>
<rect x="33.9" y="677" width="2" height="19.25" fill="#111"/>
<text class="lab" x="34.7" y="731.19" font-size="27.5" text-anchor="middle">1W</text>
<rect x="33.9" y="746.87" width="2" height="19.25" fill="#111"/>
<text class="lab" x="34.7" y="801.05" font-size="27.5" text-anchor="middle">6</text>
<rect x="33.9" y="816.73" width="2" height="19.25" fill="#111"/>
<text class="lab" x="34.7" y="870.9" font-size="27.5" text-anchor="middle">6</text>
<rect x="33.9" y="886.59" width="2" height="19.25" fill="#111"/>
<text class="lab" x="34.7" y="940.76" font-size="27.5" text-anchor="middle">1W</text>
<rect x="33.9" y="956.44" width="2" height="19.25" fill="#111"/>
<text class="lab" x="34.7" y="1010.62" font-size="27.5" text-anchor="middle">6</text>
<text class="dim" x="61.61" y="1060.95" font-size="31.3" letter-spacing="0.4">1140 x 300</text>
<text class="lab" x="398.2" y="661.33" font-size="27.5" text-anchor="middle">6</text>
<rect x="397.4" y="677" width="2" height="19.25" fill="#111"/>
<text class="lab" x="398.2" y="731.19" font-size="27.5" text-anchor="middle">1W</text>
<rect x="397.4" y="746.87" width="2" height="19.25" fill="#111"/>
<text class="lab" x="398.2" y="801.05" font-size="27.5" text-anchor="middle">6</text>
<rect x="397.4" y="816.73" width="2" height="19.25" fill="#111"/>
<text class="lab" x="398.2" y="870.9" font-size="27.5" text-anchor="middle">6</text>
<rect x="397.4" y="886.59" width="2" height="19.25" fill="#111"/>
<text class="lab" x="398.2" y="940.76" font-size="27.5" text-anchor="middle">1W</text>
<rect x="397.4" y="956.44" width="2" height="19.25" fill="#111"/>
<text class="lab" x="398.2" y="1010.62" font-size="27.5" text-anchor="middle">6</text>
<text class="dim" x="420.31" y="1060.95" font-size="31.3" letter-spacing="0.4">1140 x 400</text>
<text class="lab" x="791.1" y="661.33" font-size="27.5" text-anchor="middle">6</text>
<rect x="790.3" y="677" width="2" height="19.25" fill="#111"/>
<text class="lab" x="791.1" y="731.19" font-size="27.5" text-anchor="middle">1W</text>
<rect x="790.3" y="746.87" width="2" height="19.25" fill="#111"/>
<text class="lab" x="791.1" y="801.05" font-size="27.5" text-anchor="middle">6</text>
<rect x="790.3" y="816.73" width="2" height="19.25" fill="#111"/>
<text class="lab" x="791.1" y="870.9" font-size="27.5" text-anchor="middle">6</text>
<rect x="790.3" y="886.59" width="2" height="19.25" fill="#111"/>
<text class="lab" x="791.1" y="940.76" font-size="27.5" text-anchor="middle">1W</text>
<rect x="790.3" y="956.44" width="2" height="19.25" fill="#111"/>
<text class="lab" x="791.1" y="1010.62" font-size="27.5" text-anchor="middle">6</text>
<text class="dim" x="816.91" y="1060.95" font-size="31.3" letter-spacing="0.4">1140 x 500</text>
<text class="lab" x="1210.9" y="661.33" font-size="27.5" text-anchor="middle">6</text>
<rect x="1210.1" y="677" width="2" height="19.25" fill="#111"/>
<text class="lab" x="1210.9" y="731.19" font-size="27.5" text-anchor="middle">1W</text>
<rect x="1210.1" y="746.87" width="2" height="19.25" fill="#111"/>
<text class="lab" x="1210.9" y="801.05" font-size="27.5" text-anchor="middle">6</text>
<rect x="1210.1" y="816.73" width="2" height="19.25" fill="#111"/>
<text class="lab" x="1210.9" y="870.9" font-size="27.5" text-anchor="middle">6</text>
<rect x="1210.1" y="886.59" width="2" height="19.25" fill="#111"/>
<text class="lab" x="1210.9" y="940.76" font-size="27.5" text-anchor="middle">1W</text>
<rect x="1210.1" y="956.44" width="2" height="19.25" fill="#111"/>
<text class="lab" x="1210.9" y="1010.62" font-size="27.5" text-anchor="middle">6</text>
<text class="dim" x="1237.31" y="1060.95" font-size="31.3" letter-spacing="0.4">1140 x 600</text>
<text class="lab" x="1658.9" y="661.33" font-size="27.5" text-anchor="middle">6</text>
<rect x="1658.1" y="677" width="2" height="19.25" fill="#111"/>
<text class="lab" x="1658.9" y="731.19" font-size="27.5" text-anchor="middle">1W</text>
<rect x="1658.1" y="746.87" width="2" height="19.25" fill="#111"/>
<text class="lab" x="1658.9" y="801.05" font-size="27.5" text-anchor="middle">6</text>
<rect x="1658.1" y="816.73" width="2" height="19.25" fill="#111"/>
<text class="lab" x="1658.9" y="870.9" font-size="27.5" text-anchor="middle">6</text>
<rect x="1658.1" y="886.59" width="2" height="19.25" fill="#111"/>
<text class="lab" x="1658.9" y="940.76" font-size="27.5" text-anchor="middle">1W</text>
<rect x="1658.1" y="956.44" width="2" height="19.25" fill="#111"/>
<text class="lab" x="1658.9" y="1010.62" font-size="27.5" text-anchor="middle">6</text>
<text class="dim" x="1685.81" y="1060.95" font-size="31.3" letter-spacing="0.4">1140 x 700</text>
<path d="M71.5 1081.6V1105.3M63.7 1088.8L71.5 1081.4L79.3 1088.8M63.7 1098.1L71.5 1105.5L79.3 1098.1M166.5 1094.25H193.2M173.7 1086.45L166.3 1094.25L173.7 1102.05M186 1086.45L193.4 1094.25L186 1102.05" fill="none" stroke="#000" stroke-width="1.35" stroke-linejoin="miter"/>
</g>
<g>
<rect x="107" y="1464" width="1" height="440.8" fill="#000"/>
<rect x="115.9" y="1464" width="1" height="440.8" fill="#000"/>
<rect x="188.9" y="1464" width="1" height="440.8" fill="#000"/>
<rect x="197.35" y="1464" width="1.1" height="440.8" fill="#000"/>
<rect x="107" y="1464" width="9.9" height="1" fill="#000"/>
<rect x="107" y="1903.8" width="9.9" height="1" fill="#000"/>
<rect x="188.9" y="1464" width="9.55" height="1" fill="#000"/>
<rect x="188.9" y="1903.8" width="9.55" height="1" fill="#000"/>
<rect x="116.4" y="1468.6" width="73" height="1.8" fill="#000"/>
<rect x="116.4" y="1476" width="73" height="1" fill="#000"/>
<rect x="116.4" y="1481" width="73" height="1" fill="#000"/>
<rect x="116.4" y="1488" width="73" height="1" fill="#000"/>
<rect x="116.4" y="1493" width="73" height="1" fill="#000"/>
<rect x="116.4" y="1499.7" width="73" height="1.6" fill="#000"/>
<rect x="116.4" y="1505" width="73" height="1" fill="#000"/>
<rect x="116.4" y="1511.7" width="73" height="1.6" fill="#000"/>
<rect x="116.4" y="1517" width="73" height="1" fill="#000"/>
<rect x="116.4" y="1524" width="73" height="1" fill="#000"/>
<rect x="116.4" y="1541" width="73" height="1" fill="#000"/>
<rect x="116.4" y="1548" width="73" height="1" fill="#000"/>
<rect x="116.4" y="1553" width="73" height="1" fill="#000"/>
<rect x="116.4" y="1559.7" width="73" height="1.6" fill="#000"/>
<rect x="116.4" y="1565" width="73" height="1" fill="#000"/>
<rect x="116.4" y="1571.7" width="73" height="1.6" fill="#000"/>
<rect x="116.4" y="1577" width="73" height="1" fill="#000"/>
<rect x="116.4" y="1584" width="73" height="1" fill="#000"/>
<rect x="116.4" y="1589.6" width="73" height="1.8" fill="#000"/>
<rect x="116.4" y="1596" width="73" height="1" fill="#000"/>
<rect x="116.4" y="1614" width="73" height="1" fill="#000"/>
<rect x="116.4" y="1619.7" width="73" height="1.6" fill="#000"/>
<rect x="116.4" y="1626" width="73" height="1" fill="#000"/>
<rect x="116.4" y="1631.7" width="73" height="1.6" fill="#000"/>
<rect x="116.4" y="1638" width="73" height="1" fill="#000"/>
<rect x="116.4" y="1644" width="73" height="1" fill="#000"/>
<rect x="116.4" y="1649.6" width="73" height="1.8" fill="#000"/>
<rect x="116.4" y="1656" width="73" height="1" fill="#000"/>
<rect x="116.4" y="1662" width="73" height="1" fill="#000"/>
<rect x="116.4" y="1668" width="73" height="1" fill="#000"/>
<rect x="116.4" y="1698" width="73" height="1" fill="#000"/>
<rect x="116.4" y="1704" width="73" height="1" fill="#000"/>
<rect x="116.4" y="1709.6" width="73" height="1.8" fill="#000"/>
<rect x="116.4" y="1716" width="73" height="1" fill="#000"/>
<rect x="116.4" y="1722" width="73" height="1" fill="#000"/>
<rect x="116.4" y="1728" width="73" height="1" fill="#000"/>
<rect x="116.4" y="1734" width="73" height="1" fill="#000"/>
<rect x="116.4" y="1739.7" width="73" height="1.6" fill="#000"/>
<rect x="116.4" y="1746" width="73" height="1" fill="#000"/>
<rect x="116.4" y="1751.7" width="73" height="1.6" fill="#000"/>
<rect x="116.4" y="1769.6" width="73" height="1.8" fill="#000"/>
<rect x="116.4" y="1776" width="73" height="1" fill="#000"/>
<rect x="116.4" y="1782" width="73" height="1" fill="#000"/>
<rect x="116.4" y="1788" width="73" height="1" fill="#000"/>
<rect x="116.4" y="1794" width="73" height="1" fill="#000"/>
<rect x="116.4" y="1799.7" width="73" height="1.6" fill="#000"/>
<rect x="116.4" y="1806" width="73" height="1" fill="#000"/>
<rect x="116.4" y="1811.7" width="73" height="1.6" fill="#000"/>
<rect x="116.4" y="1818" width="73" height="1" fill="#000"/>
<rect x="116.4" y="1824" width="73" height="1" fill="#000"/>
<rect x="116.4" y="1842" width="73" height="1" fill="#000"/>
<rect x="116.4" y="1849" width="73" height="1" fill="#000"/>
<rect x="116.4" y="1854" width="73" height="1" fill="#000"/>
<rect x="116.4" y="1860.7" width="73" height="1.6" fill="#000"/>
<rect x="116.4" y="1866" width="73" height="1" fill="#000"/>
<rect x="116.4" y="1872.7" width="73" height="1.6" fill="#000"/>
<rect x="116.4" y="1878" width="73" height="1" fill="#000"/>
<rect x="116.4" y="1885" width="73" height="1" fill="#000"/>
<rect x="116.4" y="1889.6" width="73" height="1.8" fill="#000"/>
<rect x="116.4" y="1897" width="73" height="1" fill="#000"/>
<rect x="109.5" y="1529.5" width="86.4" height="7" rx="2.2" ry="2.2" fill="#fff" stroke="#000" stroke-width="1"/>
<rect x="109.5" y="1602.5" width="86.4" height="6" rx="2.2" ry="2.2" fill="#fff" stroke="#000" stroke-width="1"/>
<rect x="109.5" y="1758.5" width="86.4" height="7" rx="2.2" ry="2.2" fill="#fff" stroke="#000" stroke-width="1"/>
<rect x="109.5" y="1830.5" width="86.4" height="7" rx="2.2" ry="2.2" fill="#fff" stroke="#000" stroke-width="1"/>
<rect x="451.05" y="1464" width="1.9" height="440.8" fill="#000"/>
<rect x="460.2" y="1464" width="1" height="440.8" fill="#000"/>
<rect x="562.7" y="1464" width="1" height="440.8" fill="#000"/>
<rect x="571.15" y="1464" width="1.9" height="440.8" fill="#000"/>
<rect x="451.05" y="1464" width="10.15" height="1" fill="#000"/>
<rect x="451.05" y="1903.8" width="10.15" height="1" fill="#000"/>
<rect x="562.7" y="1464" width="10.35" height="1" fill="#000"/>
<rect x="562.7" y="1903.8" width="10.35" height="1" fill="#000"/>
<rect x="460.7" y="1468.6" width="102.5" height="1.8" fill="#000"/>
<rect x="460.7" y="1476" width="102.5" height="1" fill="#000"/>
<rect x="460.7" y="1481" width="102.5" height="1" fill="#000"/>
<rect x="460.7" y="1488" width="102.5" height="1" fill="#000"/>
<rect x="460.7" y="1493" width="102.5" height="1" fill="#000"/>
<rect x="460.7" y="1499.7" width="102.5" height="1.6" fill="#000"/>
<rect x="460.7" y="1505" width="102.5" height="1" fill="#000"/>
<rect x="460.7" y="1511.7" width="102.5" height="1.6" fill="#000"/>
<rect x="460.7" y="1517" width="102.5" height="1" fill="#000"/>
<rect x="460.7" y="1524" width="102.5" height="1" fill="#000"/>
<rect x="460.7" y="1541" width="102.5" height="1" fill="#000"/>
<rect x="460.7" y="1548" width="102.5" height="1" fill="#000"/>
<rect x="460.7" y="1553" width="102.5" height="1" fill="#000"/>
<rect x="460.7" y="1559.7" width="102.5" height="1.6" fill="#000"/>
<rect x="460.7" y="1565" width="102.5" height="1" fill="#000"/>
<rect x="460.7" y="1571.7" width="102.5" height="1.6" fill="#000"/>
<rect x="460.7" y="1577" width="102.5" height="1" fill="#000"/>
<rect x="460.7" y="1584" width="102.5" height="1" fill="#000"/>
<rect x="460.7" y="1589.6" width="102.5" height="1.8" fill="#000"/>
<rect x="460.7" y="1596" width="102.5" height="1" fill="#000"/>
<rect x="460.7" y="1614" width="102.5" height="1" fill="#000"/>
<rect x="460.7" y="1619.7" width="102.5" height="1.6" fill="#000"/>
<rect x="460.7" y="1626" width="102.5" height="1" fill="#000"/>
<rect x="460.7" y="1631.7" width="102.5" height="1.6" fill="#000"/>
<rect x="460.7" y="1638" width="102.5" height="1" fill="#000"/>
<rect x="460.7" y="1644" width="102.5" height="1" fill="#000"/>
<rect x="460.7" y="1649.6" width="102.5" height="1.8" fill="#000"/>
<rect x="460.7" y="1656" width="102.5" height="1" fill="#000"/>
<rect x="460.7" y="1662" width="102.5" height="1" fill="#000"/>
<rect x="460.7" y="1668" width="102.5" height="1" fill="#000"/>
<rect x="460.7" y="1698" width="102.5" height="1" fill="#000"/>
<rect x="460.7" y="1704" width="102.5" height="1" fill="#000"/>
<rect x="460.7" y="1709.6" width="102.5" height="1.8" fill="#000"/>
<rect x="460.7" y="1716" width="102.5" height="1" fill="#000"/>
<rect x="460.7" y="1722" width="102.5" height="1" fill="#000"/>
<rect x="460.7" y="1728" width="102.5" height="1" fill="#000"/>
<rect x="460.7" y="1734" width="102.5" height="1" fill="#000"/>
<rect x="460.7" y="1739.7" width="102.5" height="1.6" fill="#000"/>
<rect x="460.7" y="1746" width="102.5" height="1" fill="#000"/>
<rect x="460.7" y="1751.7" width="102.5" height="1.6" fill="#000"/>
<rect x="460.7" y="1769.6" width="102.5" height="1.8" fill="#000"/>
<rect x="460.7" y="1776" width="102.5" height="1" fill="#000"/>
<rect x="460.7" y="1782" width="102.5" height="1" fill="#000"/>
<rect x="460.7" y="1788" width="102.5" height="1" fill="#000"/>
<rect x="460.7" y="1794" width="102.5" height="1" fill="#000"/>
<rect x="460.7" y="1799.7" width="102.5" height="1.6" fill="#000"/>
<rect x="460.7" y="1806" width="102.5" height="1" fill="#000"/>
<rect x="460.7" y="1811.7" width="102.5" height="1.6" fill="#000"/>
<rect x="460.7" y="1818" width="102.5" height="1" fill="#000"/>
<rect x="460.7" y="1824" width="102.5" height="1" fill="#000"/>
<rect x="460.7" y="1842" width="102.5" height="1" fill="#000"/>
<rect x="460.7" y="1849" width="102.5" height="1" fill="#000"/>
<rect x="460.7" y="1854" width="102.5" height="1" fill="#000"/>
<rect x="460.7" y="1860.7" width="102.5" height="1.6" fill="#000"/>
<rect x="460.7" y="1866" width="102.5" height="1" fill="#000"/>
<rect x="460.7" y="1872.7" width="102.5" height="1.6" fill="#000"/>
<rect x="460.7" y="1878" width="102.5" height="1" fill="#000"/>
<rect x="460.7" y="1885" width="102.5" height="1" fill="#000"/>
<rect x="460.7" y="1889.6" width="102.5" height="1.8" fill="#000"/>
<rect x="460.7" y="1897" width="102.5" height="1" fill="#000"/>
<rect x="454" y="1529.5" width="116.1" height="7" rx="2.2" ry="2.2" fill="#fff" stroke="#000" stroke-width="1"/>
<rect x="454" y="1602.5" width="116.1" height="6" rx="2.2" ry="2.2" fill="#fff" stroke="#000" stroke-width="1"/>
<rect x="454" y="1758.5" width="116.1" height="7" rx="2.2" ry="2.2" fill="#fff" stroke="#000" stroke-width="1"/>
<rect x="454" y="1830.5" width="116.1" height="7" rx="2.2" ry="2.2" fill="#fff" stroke="#000" stroke-width="1"/>
<rect x="826.9" y="1464" width="1" height="440.8" fill="#000"/>
<rect x="835.3" y="1464" width="1" height="440.8" fill="#000"/>
<rect x="968" y="1464" width="1" height="440.8" fill="#000"/>
<rect x="977.1" y="1464" width="1" height="440.8" fill="#000"/>
<rect x="826.9" y="1464" width="9.4" height="1" fill="#000"/>
<rect x="826.9" y="1903.8" width="9.4" height="1" fill="#000"/>
<rect x="968" y="1464" width="10.1" height="1" fill="#000"/>
<rect x="968" y="1903.8" width="10.1" height="1" fill="#000"/>
<rect x="835.8" y="1468.6" width="132.7" height="1.8" fill="#000"/>
<rect x="835.8" y="1476" width="132.7" height="1" fill="#000"/>
<rect x="835.8" y="1481" width="132.7" height="1" fill="#000"/>
<rect x="835.8" y="1488" width="132.7" height="1" fill="#000"/>
<rect x="835.8" y="1493" width="132.7" height="1" fill="#000"/>
<rect x="835.8" y="1499.7" width="132.7" height="1.6" fill="#000"/>
<rect x="835.8" y="1505" width="132.7" height="1" fill="#000"/>
<rect x="835.8" y="1511.7" width="132.7" height="1.6" fill="#000"/>
<rect x="835.8" y="1517" width="132.7" height="1" fill="#000"/>
<rect x="835.8" y="1524" width="132.7" height="1" fill="#000"/>
<rect x="835.8" y="1541" width="132.7" height="1" fill="#000"/>
<rect x="835.8" y="1548" width="132.7" height="1" fill="#000"/>
<rect x="835.8" y="1553" width="132.7" height="1" fill="#000"/>
<rect x="835.8" y="1559.7" width="132.7" height="1.6" fill="#000"/>
<rect x="835.8" y="1565" width="132.7" height="1" fill="#000"/>
<rect x="835.8" y="1571.7" width="132.7" height="1.6" fill="#000"/>
<rect x="835.8" y="1577" width="132.7" height="1" fill="#000"/>
<rect x="835.8" y="1584" width="132.7" height="1" fill="#000"/>
<rect x="835.8" y="1589.6" width="132.7" height="1.8" fill="#000"/>
<rect x="835.8" y="1596" width="132.7" height="1" fill="#000"/>
<rect x="835.8" y="1614" width="132.7" height="1" fill="#000"/>
<rect x="835.8" y="1619.7" width="132.7" height="1.6" fill="#000"/>
<rect x="835.8" y="1626" width="132.7" height="1" fill="#000"/>
<rect x="835.8" y="1631.7" width="132.7" height="1.6" fill="#000"/>
<rect x="835.8" y="1638" width="132.7" height="1" fill="#000"/>
<rect x="835.8" y="1644" width="132.7" height="1" fill="#000"/>
<rect x="835.8" y="1649.6" width="132.7" height="1.8" fill="#000"/>
<rect x="835.8" y="1656" width="132.7" height="1" fill="#000"/>
<rect x="835.8" y="1662" width="132.7" height="1" fill="#000"/>
<rect x="835.8" y="1668" width="132.7" height="1" fill="#000"/>
<rect x="835.8" y="1698" width="132.7" height="1" fill="#000"/>
<rect x="835.8" y="1704" width="132.7" height="1" fill="#000"/>
<rect x="835.8" y="1709.6" width="132.7" height="1.8" fill="#000"/>
<rect x="835.8" y="1716" width="132.7" height="1" fill="#000"/>
<rect x="835.8" y="1722" width="132.7" height="1" fill="#000"/>
<rect x="835.8" y="1728" width="132.7" height="1" fill="#000"/>
<rect x="835.8" y="1734" width="132.7" height="1" fill="#000"/>
<rect x="835.8" y="1739.7" width="132.7" height="1.6" fill="#000"/>
<rect x="835.8" y="1746" width="132.7" height="1" fill="#000"/>
<rect x="835.8" y="1751.7" width="132.7" height="1.6" fill="#000"/>
<rect x="835.8" y="1769.6" width="132.7" height="1.8" fill="#000"/>
<rect x="835.8" y="1776" width="132.7" height="1" fill="#000"/>
<rect x="835.8" y="1782" width="132.7" height="1" fill="#000"/>
<rect x="835.8" y="1788" width="132.7" height="1" fill="#000"/>
<rect x="835.8" y="1794" width="132.7" height="1" fill="#000"/>
<rect x="835.8" y="1799.7" width="132.7" height="1.6" fill="#000"/>
<rect x="835.8" y="1806" width="132.7" height="1" fill="#000"/>
<rect x="835.8" y="1811.7" width="132.7" height="1.6" fill="#000"/>
<rect x="835.8" y="1818" width="132.7" height="1" fill="#000"/>
<rect x="835.8" y="1824" width="132.7" height="1" fill="#000"/>
<rect x="835.8" y="1842" width="132.7" height="1" fill="#000"/>
<rect x="835.8" y="1849" width="132.7" height="1" fill="#000"/>
<rect x="835.8" y="1854" width="132.7" height="1" fill="#000"/>
<rect x="835.8" y="1860.7" width="132.7" height="1.6" fill="#000"/>
<rect x="835.8" y="1866" width="132.7" height="1" fill="#000"/>
<rect x="835.8" y="1872.7" width="132.7" height="1.6" fill="#000"/>
<rect x="835.8" y="1878" width="132.7" height="1" fill="#000"/>
<rect x="835.8" y="1885" width="132.7" height="1" fill="#000"/>
<rect x="835.8" y="1889.6" width="132.7" height="1.8" fill="#000"/>
<rect x="835.8" y="1897" width="132.7" height="1" fill="#000"/>
<rect x="829.4" y="1529.5" width="146.2" height="7" rx="2.2" ry="2.2" fill="#fff" stroke="#000" stroke-width="1"/>
<rect x="829.4" y="1602.5" width="146.2" height="6" rx="2.2" ry="2.2" fill="#fff" stroke="#000" stroke-width="1"/>
<rect x="829.4" y="1758.5" width="146.2" height="7" rx="2.2" ry="2.2" fill="#fff" stroke="#000" stroke-width="1"/>
<rect x="829.4" y="1830.5" width="146.2" height="7" rx="2.2" ry="2.2" fill="#fff" stroke="#000" stroke-width="1"/>
<rect x="1230.3" y="1464" width="1" height="440.8" fill="#000"/>
<rect x="1238.2" y="1464" width="1.7" height="440.8" fill="#000"/>
<rect x="1401.15" y="1464" width="1.7" height="440.8" fill="#000"/>
<rect x="1411" y="1464" width="1" height="440.8" fill="#000"/>
<rect x="1230.3" y="1464" width="9.6" height="1" fill="#000"/>
<rect x="1230.3" y="1903.8" width="9.6" height="1" fill="#000"/>
<rect x="1401.15" y="1464" width="10.85" height="1" fill="#000"/>
<rect x="1401.15" y="1903.8" width="10.85" height="1" fill="#000"/>
<rect x="1239.05" y="1468.6" width="162.95" height="1.8" fill="#000"/>
<rect x="1239.05" y="1476" width="162.95" height="1" fill="#000"/>
<rect x="1239.05" y="1481" width="162.95" height="1" fill="#000"/>
<rect x="1239.05" y="1488" width="162.95" height="1" fill="#000"/>
<rect x="1239.05" y="1493" width="162.95" height="1" fill="#000"/>
<rect x="1239.05" y="1499.7" width="162.95" height="1.6" fill="#000"/>
<rect x="1239.05" y="1505" width="162.95" height="1" fill="#000"/>
<rect x="1239.05" y="1511.7" width="162.95" height="1.6" fill="#000"/>
<rect x="1239.05" y="1517" width="162.95" height="1" fill="#000"/>
<rect x="1239.05" y="1524" width="162.95" height="1" fill="#000"/>
<rect x="1239.05" y="1541" width="162.95" height="1" fill="#000"/>
<rect x="1239.05" y="1548" width="162.95" height="1" fill="#000"/>
<rect x="1239.05" y="1553" width="162.95" height="1" fill="#000"/>
<rect x="1239.05" y="1559.7" width="162.95" height="1.6" fill="#000"/>
<rect x="1239.05" y="1565" width="162.95" height="1" fill="#000"/>
<rect x="1239.05" y="1571.7" width="162.95" height="1.6" fill="#000"/>
<rect x="1239.05" y="1577" width="162.95" height="1" fill="#000"/>
<rect x="1239.05" y="1584" width="162.95" height="1" fill="#000"/>
<rect x="1239.05" y="1589.6" width="162.95" height="1.8" fill="#000"/>
<rect x="1239.05" y="1596" width="162.95" height="1" fill="#000"/>
<rect x="1239.05" y="1614" width="162.95" height="1" fill="#000"/>
<rect x="1239.05" y="1619.7" width="162.95" height="1.6" fill="#000"/>
<rect x="1239.05" y="1626" width="162.95" height="1" fill="#000"/>
<rect x="1239.05" y="1631.7" width="162.95" height="1.6" fill="#000"/>
<rect x="1239.05" y="1638" width="162.95" height="1" fill="#000"/>
<rect x="1239.05" y="1644" width="162.95" height="1" fill="#000"/>
<rect x="1239.05" y="1649.6" width="162.95" height="1.8" fill="#000"/>
<rect x="1239.05" y="1656" width="162.95" height="1" fill="#000"/>
<rect x="1239.05" y="1662" width="162.95" height="1" fill="#000"/>
<rect x="1239.05" y="1668" width="162.95" height="1" fill="#000"/>
<rect x="1239.05" y="1698" width="162.95" height="1" fill="#000"/>
<rect x="1239.05" y="1704" width="162.95" height="1" fill="#000"/>
<rect x="1239.05" y="1709.6" width="162.95" height="1.8" fill="#000"/>
<rect x="1239.05" y="1716" width="162.95" height="1" fill="#000"/>
<rect x="1239.05" y="1722" width="162.95" height="1" fill="#000"/>
<rect x="1239.05" y="1728" width="162.95" height="1" fill="#000"/>
<rect x="1239.05" y="1734" width="162.95" height="1" fill="#000"/>
<rect x="1239.05" y="1739.7" width="162.95" height="1.6" fill="#000"/>
<rect x="1239.05" y="1746" width="162.95" height="1" fill="#000"/>
<rect x="1239.05" y="1751.7" width="162.95" height="1.6" fill="#000"/>
<rect x="1239.05" y="1769.6" width="162.95" height="1.8" fill="#000"/>
<rect x="1239.05" y="1776" width="162.95" height="1" fill="#000"/>
<rect x="1239.05" y="1782" width="162.95" height="1" fill="#000"/>
<rect x="1239.05" y="1788" width="162.95" height="1" fill="#000"/>
<rect x="1239.05" y="1794" width="162.95" height="1" fill="#000"/>
<rect x="1239.05" y="1799.7" width="162.95" height="1.6" fill="#000"/>
<rect x="1239.05" y="1806" width="162.95" height="1" fill="#000"/>
<rect x="1239.05" y="1811.7" width="162.95" height="1.6" fill="#000"/>
<rect x="1239.05" y="1818" width="162.95" height="1" fill="#000"/>
<rect x="1239.05" y="1824" width="162.95" height="1" fill="#000"/>
<rect x="1239.05" y="1842" width="162.95" height="1" fill="#000"/>
<rect x="1239.05" y="1849" width="162.95" height="1" fill="#000"/>
<rect x="1239.05" y="1854" width="162.95" height="1" fill="#000"/>
<rect x="1239.05" y="1860.7" width="162.95" height="1.6" fill="#000"/>
<rect x="1239.05" y="1866" width="162.95" height="1" fill="#000"/>
<rect x="1239.05" y="1872.7" width="162.95" height="1.6" fill="#000"/>
<rect x="1239.05" y="1878" width="162.95" height="1" fill="#000"/>
<rect x="1239.05" y="1885" width="162.95" height="1" fill="#000"/>
<rect x="1239.05" y="1889.6" width="162.95" height="1.8" fill="#000"/>
<rect x="1239.05" y="1897" width="162.95" height="1" fill="#000"/>
<rect x="1232.8" y="1529.5" width="176.7" height="7" rx="2.2" ry="2.2" fill="#fff" stroke="#000" stroke-width="1"/>
<rect x="1232.8" y="1602.5" width="176.7" height="6" rx="2.2" ry="2.2" fill="#fff" stroke="#000" stroke-width="1"/>
<rect x="1232.8" y="1758.5" width="176.7" height="7" rx="2.2" ry="2.2" fill="#fff" stroke="#000" stroke-width="1"/>
<rect x="1232.8" y="1830.5" width="176.7" height="7" rx="2.2" ry="2.2" fill="#fff" stroke="#000" stroke-width="1"/>
<rect x="1665.1" y="1464" width="1" height="440.8" fill="#000"/>
<rect x="1674.4" y="1464" width="1" height="440.8" fill="#000"/>
<rect x="1866.7" y="1464" width="1" height="440.8" fill="#000"/>
<rect x="1876.15" y="1464" width="1.7" height="440.8" fill="#000"/>
<rect x="1665.1" y="1464" width="10.3" height="1" fill="#000"/>
<rect x="1665.1" y="1903.8" width="10.3" height="1" fill="#000"/>
<rect x="1866.7" y="1464" width="11.15" height="1" fill="#000"/>
<rect x="1866.7" y="1903.8" width="11.15" height="1" fill="#000"/>
<rect x="1674.9" y="1468.6" width="192.3" height="1.8" fill="#000"/>
<rect x="1674.9" y="1476" width="192.3" height="1" fill="#000"/>
<rect x="1674.9" y="1481" width="192.3" height="1" fill="#000"/>
<rect x="1674.9" y="1488" width="192.3" height="1" fill="#000"/>
<rect x="1674.9" y="1493" width="192.3" height="1" fill="#000"/>
<rect x="1674.9" y="1499.7" width="192.3" height="1.6" fill="#000"/>
<rect x="1674.9" y="1505" width="192.3" height="1" fill="#000"/>
<rect x="1674.9" y="1511.7" width="192.3" height="1.6" fill="#000"/>
<rect x="1674.9" y="1517" width="192.3" height="1" fill="#000"/>
<rect x="1674.9" y="1524" width="192.3" height="1" fill="#000"/>
<rect x="1674.9" y="1541" width="192.3" height="1" fill="#000"/>
<rect x="1674.9" y="1548" width="192.3" height="1" fill="#000"/>
<rect x="1674.9" y="1553" width="192.3" height="1" fill="#000"/>
<rect x="1674.9" y="1559.7" width="192.3" height="1.6" fill="#000"/>
<rect x="1674.9" y="1565" width="192.3" height="1" fill="#000"/>
<rect x="1674.9" y="1571.7" width="192.3" height="1.6" fill="#000"/>
<rect x="1674.9" y="1577" width="192.3" height="1" fill="#000"/>
<rect x="1674.9" y="1584" width="192.3" height="1" fill="#000"/>
<rect x="1674.9" y="1589.6" width="192.3" height="1.8" fill="#000"/>
<rect x="1674.9" y="1596" width="192.3" height="1" fill="#000"/>
<rect x="1674.9" y="1614" width="192.3" height="1" fill="#000"/>
<rect x="1674.9" y="1619.7" width="192.3" height="1.6" fill="#000"/>
<rect x="1674.9" y="1626" width="192.3" height="1" fill="#000"/>
<rect x="1674.9" y="1631.7" width="192.3" height="1.6" fill="#000"/>
<rect x="1674.9" y="1638" width="192.3" height="1" fill="#000"/>
<rect x="1674.9" y="1644" width="192.3" height="1" fill="#000"/>
<rect x="1674.9" y="1649.6" width="192.3" height="1.8" fill="#000"/>
<rect x="1674.9" y="1656" width="192.3" height="1" fill="#000"/>
<rect x="1674.9" y="1662" width="192.3" height="1" fill="#000"/>
<rect x="1674.9" y="1668" width="192.3" height="1" fill="#000"/>
<rect x="1674.9" y="1698" width="192.3" height="1" fill="#000"/>
<rect x="1674.9" y="1704" width="192.3" height="1" fill="#000"/>
<rect x="1674.9" y="1709.6" width="192.3" height="1.8" fill="#000"/>
<rect x="1674.9" y="1716" width="192.3" height="1" fill="#000"/>
<rect x="1674.9" y="1722" width="192.3" height="1" fill="#000"/>
<rect x="1674.9" y="1728" width="192.3" height="1" fill="#000"/>
<rect x="1674.9" y="1734" width="192.3" height="1" fill="#000"/>
<rect x="1674.9" y="1739.7" width="192.3" height="1.6" fill="#000"/>
<rect x="1674.9" y="1746" width="192.3" height="1" fill="#000"/>
<rect x="1674.9" y="1751.7" width="192.3" height="1.6" fill="#000"/>
<rect x="1674.9" y="1769.6" width="192.3" height="1.8" fill="#000"/>
<rect x="1674.9" y="1776" width="192.3" height="1" fill="#000"/>
<rect x="1674.9" y="1782" width="192.3" height="1" fill="#000"/>
<rect x="1674.9" y="1788" width="192.3" height="1" fill="#000"/>
<rect x="1674.9" y="1794" width="192.3" height="1" fill="#000"/>
<rect x="1674.9" y="1799.7" width="192.3" height="1.6" fill="#000"/>
<rect x="1674.9" y="1806" width="192.3" height="1" fill="#000"/>
<rect x="1674.9" y="1811.7" width="192.3" height="1.6" fill="#000"/>
<rect x="1674.9" y="1818" width="192.3" height="1" fill="#000"/>
<rect x="1674.9" y="1824" width="192.3" height="1" fill="#000"/>
<rect x="1674.9" y="1842" width="192.3" height="1" fill="#000"/>
<rect x="1674.9" y="1849" width="192.3" height="1" fill="#000"/>
<rect x="1674.9" y="1854" width="192.3" height="1" fill="#000"/>
<rect x="1674.9" y="1860.7" width="192.3" height="1.6" fill="#000"/>
<rect x="1674.9" y="1866" width="192.3" height="1" fill="#000"/>
<rect x="1674.9" y="1872.7" width="192.3" height="1.6" fill="#000"/>
<rect x="1674.9" y="1878" width="192.3" height="1" fill="#000"/>
<rect x="1674.9" y="1885" width="192.3" height="1" fill="#000"/>
<rect x="1674.9" y="1889.6" width="192.3" height="1.8" fill="#000"/>
<rect x="1674.9" y="1897" width="192.3" height="1" fill="#000"/>
<rect x="1667.6" y="1529.5" width="207.4" height="7" rx="2.2" ry="2.2" fill="#fff" stroke="#000" stroke-width="1"/>
<rect x="1667.6" y="1602.5" width="207.4" height="6" rx="2.2" ry="2.2" fill="#fff" stroke="#000" stroke-width="1"/>
<rect x="1667.6" y="1758.5" width="207.4" height="7" rx="2.2" ry="2.2" fill="#fff" stroke="#000" stroke-width="1"/>
<rect x="1667.6" y="1830.5" width="207.4" height="7" rx="2.2" ry="2.2" fill="#fff" stroke="#000" stroke-width="1"/>
</g>
<g class="t">
<text class="lab" x="72.1" y="1229.86" font-size="29.6" text-anchor="middle">5</text>
<rect x="71.3" y="1247.41" width="2" height="20.72" fill="#111"/>
<text class="lab" x="72.1" y="1304.6" font-size="29.6" text-anchor="middle">1W</text>
<rect x="71.3" y="1322.16" width="2" height="20.72" fill="#111"/>
<text class="lab" x="72.1" y="1379.35" font-size="29.6" text-anchor="middle">5</text>
<rect x="71.3" y="1396.9" width="2" height="20.72" fill="#111"/>
<text class="lab" x="72.1" y="1454.09" font-size="29.6" text-anchor="middle">1W</text>
<rect x="71.3" y="1471.65" width="2" height="20.72" fill="#111"/>
<text class="lab" x="72.1" y="1528.84" font-size="29.6" text-anchor="middle">5</text>
<rect x="71.3" y="1546.39" width="2" height="20.72" fill="#111"/>
<text class="lab" x="72.1" y="1603.58" font-size="29.6" text-anchor="middle">5</text>
<rect x="71.3" y="1621.13" width="2" height="20.72" fill="#111"/>
<text class="lab" x="72.1" y="1678.33" font-size="29.6" text-anchor="middle">1W</text>
<rect x="71.3" y="1695.88" width="2" height="20.72" fill="#111"/>
<text class="lab" x="72.1" y="1753.07" font-size="29.6" text-anchor="middle">5</text>
<rect x="71.3" y="1770.62" width="2" height="20.72" fill="#111"/>
<text class="lab" x="72.1" y="1827.82" font-size="29.6" text-anchor="middle">1W</text>
<rect x="71.3" y="1845.37" width="2" height="20.72" fill="#111"/>
<text class="lab" x="72.1" y="1902.56" font-size="29.6" text-anchor="middle">5</text>
<text class="dim" x="104.78" y="1957.72" font-size="33.5" letter-spacing="0.12">1460 x 300</text>
<text class="lab" x="417.6" y="1229.86" font-size="29.6" text-anchor="middle">5</text>
<rect x="416.8" y="1247.41" width="2" height="20.72" fill="#111"/>
<text class="lab" x="417.6" y="1304.6" font-size="29.6" text-anchor="middle">1W</text>
<rect x="416.8" y="1322.16" width="2" height="20.72" fill="#111"/>
<text class="lab" x="417.6" y="1379.35" font-size="29.6" text-anchor="middle">5</text>
<rect x="416.8" y="1396.9" width="2" height="20.72" fill="#111"/>
<text class="lab" x="417.6" y="1454.09" font-size="29.6" text-anchor="middle">1W</text>
<rect x="416.8" y="1471.65" width="2" height="20.72" fill="#111"/>
<text class="lab" x="417.6" y="1528.84" font-size="29.6" text-anchor="middle">5</text>
<rect x="416.8" y="1546.39" width="2" height="20.72" fill="#111"/>
<text class="lab" x="417.6" y="1603.58" font-size="29.6" text-anchor="middle">5</text>
<rect x="416.8" y="1621.13" width="2" height="20.72" fill="#111"/>
<text class="lab" x="417.6" y="1678.33" font-size="29.6" text-anchor="middle">1W</text>
<rect x="416.8" y="1695.88" width="2" height="20.72" fill="#111"/>
<text class="lab" x="417.6" y="1753.07" font-size="29.6" text-anchor="middle">5</text>
<rect x="416.8" y="1770.62" width="2" height="20.72" fill="#111"/>
<text class="lab" x="417.6" y="1827.82" font-size="29.6" text-anchor="middle">1W</text>
<rect x="416.8" y="1845.37" width="2" height="20.72" fill="#111"/>
<text class="lab" x="417.6" y="1902.56" font-size="29.6" text-anchor="middle">5</text>
<text class="dim" x="448.18" y="1957.72" font-size="33.5" letter-spacing="0.12">1460 x 400</text>
<text class="lab" x="792.5" y="1229.86" font-size="29.6" text-anchor="middle">5</text>
<rect x="791.7" y="1247.41" width="2" height="20.72" fill="#111"/>
<text class="lab" x="792.5" y="1304.6" font-size="29.6" text-anchor="middle">1W</text>
<rect x="791.7" y="1322.16" width="2" height="20.72" fill="#111"/>
<text class="lab" x="792.5" y="1379.35" font-size="29.6" text-anchor="middle">5</text>
<rect x="791.7" y="1396.9" width="2" height="20.72" fill="#111"/>
<text class="lab" x="792.5" y="1454.09" font-size="29.6" text-anchor="middle">1W</text>
<rect x="791.7" y="1471.65" width="2" height="20.72" fill="#111"/>
<text class="lab" x="792.5" y="1528.84" font-size="29.6" text-anchor="middle">5</text>
<rect x="791.7" y="1546.39" width="2" height="20.72" fill="#111"/>
<text class="lab" x="792.5" y="1603.58" font-size="29.6" text-anchor="middle">5</text>
<rect x="791.7" y="1621.13" width="2" height="20.72" fill="#111"/>
<text class="lab" x="792.5" y="1678.33" font-size="29.6" text-anchor="middle">1W</text>
<rect x="791.7" y="1695.88" width="2" height="20.72" fill="#111"/>
<text class="lab" x="792.5" y="1753.07" font-size="29.6" text-anchor="middle">5</text>
<rect x="791.7" y="1770.62" width="2" height="20.72" fill="#111"/>
<text class="lab" x="792.5" y="1827.82" font-size="29.6" text-anchor="middle">1W</text>
<rect x="791.7" y="1845.37" width="2" height="20.72" fill="#111"/>
<text class="lab" x="792.5" y="1902.56" font-size="29.6" text-anchor="middle">5</text>
<text class="dim" x="824.38" y="1957.72" font-size="33.5" letter-spacing="0.12">1460 x 500</text>
<text class="lab" x="1195.5" y="1229.86" font-size="29.6" text-anchor="middle">5</text>
<rect x="1194.7" y="1247.41" width="2" height="20.72" fill="#111"/>
<text class="lab" x="1195.5" y="1304.6" font-size="29.6" text-anchor="middle">1W</text>
<rect x="1194.7" y="1322.16" width="2" height="20.72" fill="#111"/>
<text class="lab" x="1195.5" y="1379.35" font-size="29.6" text-anchor="middle">5</text>
<rect x="1194.7" y="1396.9" width="2" height="20.72" fill="#111"/>
<text class="lab" x="1195.5" y="1454.09" font-size="29.6" text-anchor="middle">1W</text>
<rect x="1194.7" y="1471.65" width="2" height="20.72" fill="#111"/>
<text class="lab" x="1195.5" y="1528.84" font-size="29.6" text-anchor="middle">5</text>
<rect x="1194.7" y="1546.39" width="2" height="20.72" fill="#111"/>
<text class="lab" x="1195.5" y="1603.58" font-size="29.6" text-anchor="middle">5</text>
<rect x="1194.7" y="1621.13" width="2" height="20.72" fill="#111"/>
<text class="lab" x="1195.5" y="1678.33" font-size="29.6" text-anchor="middle">1W</text>
<rect x="1194.7" y="1695.88" width="2" height="20.72" fill="#111"/>
<text class="lab" x="1195.5" y="1753.07" font-size="29.6" text-anchor="middle">5</text>
<rect x="1194.7" y="1770.62" width="2" height="20.72" fill="#111"/>
<text class="lab" x="1195.5" y="1827.82" font-size="29.6" text-anchor="middle">1W</text>
<rect x="1194.7" y="1845.37" width="2" height="20.72" fill="#111"/>
<text class="lab" x="1195.5" y="1902.56" font-size="29.6" text-anchor="middle">5</text>
<text class="dim" x="1228.28" y="1957.72" font-size="33.5" letter-spacing="0.12">1460 x 600</text>
<text class="lab" x="1630.9" y="1229.86" font-size="29.6" text-anchor="middle">5</text>
<rect x="1630.1" y="1247.41" width="2" height="20.72" fill="#111"/>
<text class="lab" x="1630.9" y="1304.6" font-size="29.6" text-anchor="middle">1W</text>
<rect x="1630.1" y="1322.16" width="2" height="20.72" fill="#111"/>
<text class="lab" x="1630.9" y="1379.35" font-size="29.6" text-anchor="middle">5</text>
<rect x="1630.1" y="1396.9" width="2" height="20.72" fill="#111"/>
<text class="lab" x="1630.9" y="1454.09" font-size="29.6" text-anchor="middle">1W</text>
<rect x="1630.1" y="1471.65" width="2" height="20.72" fill="#111"/>
<text class="lab" x="1630.9" y="1528.84" font-size="29.6" text-anchor="middle">5</text>
<rect x="1630.1" y="1546.39" width="2" height="20.72" fill="#111"/>
<text class="lab" x="1630.9" y="1603.58" font-size="29.6" text-anchor="middle">5</text>
<rect x="1630.1" y="1621.13" width="2" height="20.72" fill="#111"/>
<text class="lab" x="1630.9" y="1678.33" font-size="29.6" text-anchor="middle">1W</text>
<rect x="1630.1" y="1695.88" width="2" height="20.72" fill="#111"/>
<text class="lab" x="1630.9" y="1753.07" font-size="29.6" text-anchor="middle">5</text>
<rect x="1630.1" y="1770.62" width="2" height="20.72" fill="#111"/>
<text class="lab" x="1630.9" y="1827.82" font-size="29.6" text-anchor="middle">1W</text>
<rect x="1630.1" y="1845.37" width="2" height="20.72" fill="#111"/>
<text class="lab" x="1630.9" y="1902.56" font-size="29.6" text-anchor="middle">5</text>
<text class="dim" x="1661.98" y="1957.72" font-size="33.5" letter-spacing="0.12">1460 x 700</text>
<path d="M115.9 1971.6V1997.2M107.5 1979.4L115.9 1971.4L124.3 1979.4M107.5 1989.4L115.9 1997.4L124.3 1989.4M217 1985.3H246M224.8 1976.9L216.8 1985.3L224.8 1993.7M238.2 1976.9L246.2 1985.3L238.2 1993.7" fill="none" stroke="#000" stroke-width="1.5" stroke-linejoin="miter"/>
</g>
<g>
<rect x="107.95" y="2395.1" width="1.3" height="513.5" fill="#000"/>
<rect x="117.1" y="2395.1" width="1" height="513.5" fill="#000"/>
<rect x="190.1" y="2395.1" width="1" height="513.5" fill="#000"/>
<rect x="198.25" y="2395.1" width="1.3" height="513.5" fill="#000"/>
<rect x="107.95" y="2395.1" width="10.15" height="1.7" fill="#000"/>
<rect x="107.95" y="2907.6" width="10.15" height="1" fill="#000"/>
<rect x="190.1" y="2395.1" width="9.45" height="1.7" fill="#000"/>
<rect x="190.1" y="2907.6" width="9.45" height="1" fill="#000"/>
<rect x="117.6" y="2401" width="73" height="1" fill="#000"/>
<rect x="117.6" y="2407" width="73" height="1" fill="#000"/>
<rect x="117.6" y="2412.6" width="73" height="1.8" fill="#000"/>
<rect x="117.6" y="2419" width="73" height="1" fill="#000"/>
<rect x="117.6" y="2425" width="73" height="1" fill="#000"/>
<rect x="117.6" y="2431" width="73" height="1" fill="#000"/>
<rect x="117.6" y="2437" width="73" height="1" fill="#000"/>
<rect x="117.6" y="2442.7" width="73" height="1.6" fill="#000"/>
<rect x="117.6" y="2449" width="73" height="1" fill="#000"/>
<rect x="117.6" y="2455.7" width="73" height="1.6" fill="#000"/>
<rect x="117.6" y="2472.6" width="73" height="1.8" fill="#000"/>
<rect x="117.6" y="2480" width="73" height="1" fill="#000"/>
<rect x="117.6" y="2485" width="73" height="1" fill="#000"/>
<rect x="117.6" y="2492" width="73" height="1" fill="#000"/>
<rect x="117.6" y="2497" width="73" height="1" fill="#000"/>
<rect x="117.6" y="2503.7" width="73" height="1.6" fill="#000"/>
<rect x="117.6" y="2509" width="73" height="1" fill="#000"/>
<rect x="117.6" y="2515.7" width="73" height="1.6" fill="#000"/>
<rect x="117.6" y="2521" width="73" height="1" fill="#000"/>
<rect x="117.6" y="2528" width="73" height="1" fill="#000"/>
<rect x="117.6" y="2545" width="73" height="1" fill="#000"/>
<rect x="117.6" y="2552" width="73" height="1" fill="#000"/>
<rect x="117.6" y="2557" width="73" height="1" fill="#000"/>
<rect x="117.6" y="2563.7" width="73" height="1.6" fill="#000"/>
<rect x="117.6" y="2570" width="73" height="1" fill="#000"/>
<rect x="117.6" y="2575.7" width="73" height="1.6" fill="#000"/>
<rect x="117.6" y="2582" width="73" height="1" fill="#000"/>
<rect x="117.6" y="2588" width="73" height="1" fill="#000"/>
<rect x="117.6" y="2593.6" width="73" height="1.8" fill="#000"/>
<rect x="117.6" y="2600" width="73" height="1" fill="#000"/>
<rect x="117.6" y="2630" width="73" height="1" fill="#000"/>
<rect x="117.6" y="2635.7" width="73" height="1.6" fill="#000"/>
<rect x="117.6" y="2642" width="73" height="1" fill="#000"/>
<rect x="117.6" y="2648" width="73" height="1" fill="#000"/>
<rect x="117.6" y="2653.6" width="73" height="1.8" fill="#000"/>
<rect x="117.6" y="2660" width="73" height="1" fill="#000"/>
<rect x="117.6" y="2666" width="73" height="1" fill="#000"/>
<rect x="117.6" y="2672" width="73" height="1" fill="#000"/>
<rect x="117.6" y="2678" width="73" height="1" fill="#000"/>
<rect x="117.6" y="2683.7" width="73" height="1.6" fill="#000"/>
<rect x="117.6" y="2702" width="73" height="1" fill="#000"/>
<rect x="117.6" y="2709" width="73" height="1" fill="#000"/>
<rect x="117.6" y="2713.6" width="73" height="1.8" fill="#000"/>
<rect x="117.6" y="2721" width="73" height="1" fill="#000"/>
<rect x="117.6" y="2726" width="73" height="1" fill="#000"/>
<rect x="117.6" y="2733" width="73" height="1" fill="#000"/>
<rect x="117.6" y="2738" width="73" height="1" fill="#000"/>
<rect x="117.6" y="2744.7" width="73" height="1.6" fill="#000"/>
<rect x="117.6" y="2750" width="73" height="1" fill="#000"/>
<rect x="117.6" y="2756.7" width="73" height="1.6" fill="#000"/>
<rect x="117.6" y="2773.6" width="73" height="1.8" fill="#000"/>
<rect x="117.6" y="2781" width="73" height="1" fill="#000"/>
<rect x="117.6" y="2786" width="73" height="1" fill="#000"/>
<rect x="117.6" y="2793" width="73" height="1" fill="#000"/>
<rect x="117.6" y="2798" width="73" height="1" fill="#000"/>
<rect x="117.6" y="2804.7" width="73" height="1.6" fill="#000"/>
<rect x="117.6" y="2811" width="73" height="1" fill="#000"/>
<rect x="117.6" y="2816.7" width="73" height="1.6" fill="#000"/>
<rect x="117.6" y="2823" width="73" height="1" fill="#000"/>
<rect x="117.6" y="2829" width="73" height="1" fill="#000"/>
<rect x="117.6" y="2847" width="73" height="1" fill="#000"/>
<rect x="117.6" y="2853" width="73" height="1" fill="#000"/>
<rect x="117.6" y="2859" width="73" height="1" fill="#000"/>
<rect x="117.6" y="2864.7" width="73" height="1.6" fill="#000"/>
<rect x="117.6" y="2871" width="73" height="1" fill="#000"/>
<rect x="117.6" y="2876.7" width="73" height="1.6" fill="#000"/>
<rect x="117.6" y="2883" width="73" height="1" fill="#000"/>
<rect x="117.6" y="2889" width="73" height="1" fill="#000"/>
<rect x="117.6" y="2894.6" width="73" height="1.8" fill="#000"/>
<rect x="117.6" y="2901" width="73" height="1" fill="#000"/>
<rect x="110.6" y="2461.5" width="86.3" height="6" rx="2.2" ry="2.2" fill="#fff" stroke="#000" stroke-width="1"/>
<rect x="110.6" y="2533.5" width="86.3" height="7" rx="2.2" ry="2.2" fill="#fff" stroke="#000" stroke-width="1"/>
<rect x="110.6" y="2690.5" width="86.3" height="6" rx="2.2" ry="2.2" fill="#fff" stroke="#000" stroke-width="1"/>
<rect x="110.6" y="2762.5" width="86.3" height="7" rx="2.2" ry="2.2" fill="#fff" stroke="#000" stroke-width="1"/>
<rect x="110.6" y="2835.5" width="86.3" height="6" rx="2.2" ry="2.2" fill="#fff" stroke="#000" stroke-width="1"/>
<rect x="452.35" y="2395.1" width="1.9" height="513.5" fill="#000"/>
<rect x="462" y="2395.1" width="1" height="513.5" fill="#000"/>
<rect x="563.9" y="2395.1" width="1" height="513.5" fill="#000"/>
<rect x="573.8" y="2395.1" width="1.4" height="513.5" fill="#000"/>
<rect x="452.35" y="2395.1" width="10.65" height="1.7" fill="#000"/>
<rect x="452.35" y="2907.6" width="10.65" height="1" fill="#000"/>
<rect x="563.9" y="2395.1" width="11.3" height="1.7" fill="#000"/>
<rect x="563.9" y="2907.6" width="11.3" height="1" fill="#000"/>
<rect x="462.5" y="2401" width="101.9" height="1" fill="#000"/>
<rect x="462.5" y="2407" width="101.9" height="1" fill="#000"/>
<rect x="462.5" y="2412.6" width="101.9" height="1.8" fill="#000"/>
<rect x="462.5" y="2419" width="101.9" height="1" fill="#000"/>
<rect x="462.5" y="2425" width="101.9" height="1" fill="#000"/>
<rect x="462.5" y="2431" width="101.9" height="1" fill="#000"/>
<rect x="462.5" y="2437" width="101.9" height="1" fill="#000"/>
<rect x="462.5" y="2442.7" width="101.9" height="1.6" fill="#000"/>
<rect x="462.5" y="2449" width="101.9" height="1" fill="#000"/>
<rect x="462.5" y="2455.7" width="101.9" height="1.6" fill="#000"/>
<rect x="462.5" y="2472.6" width="101.9" height="1.8" fill="#000"/>
<rect x="462.5" y="2480" width="101.9" height="1" fill="#000"/>
<rect x="462.5" y="2485" width="101.9" height="1" fill="#000"/>
<rect x="462.5" y="2492" width="101.9" height="1" fill="#000"/>
<rect x="462.5" y="2497" width="101.9" height="1" fill="#000"/>
<rect x="462.5" y="2503.7" width="101.9" height="1.6" fill="#000"/>
<rect x="462.5" y="2509" width="101.9" height="1" fill="#000"/>
<rect x="462.5" y="2515.7" width="101.9" height="1.6" fill="#000"/>
<rect x="462.5" y="2521" width="101.9" height="1" fill="#000"/>
<rect x="462.5" y="2528" width="101.9" height="1" fill="#000"/>
<rect x="462.5" y="2545" width="101.9" height="1" fill="#000"/>
<rect x="462.5" y="2552" width="101.9" height="1" fill="#000"/>
<rect x="462.5" y="2557" width="101.9" height="1" fill="#000"/>
<rect x="462.5" y="2563.7" width="101.9" height="1.6" fill="#000"/>
<rect x="462.5" y="2570" width="101.9" height="1" fill="#000"/>
<rect x="462.5" y="2575.7" width="101.9" height="1.6" fill="#000"/>
<rect x="462.5" y="2582" width="101.9" height="1" fill="#000"/>
<rect x="462.5" y="2588" width="101.9" height="1" fill="#000"/>
<rect x="462.5" y="2593.6" width="101.9" height="1.8" fill="#000"/>
<rect x="462.5" y="2600" width="101.9" height="1" fill="#000"/>
<rect x="462.5" y="2630" width="101.9" height="1" fill="#000"/>
<rect x="462.5" y="2635.7" width="101.9" height="1.6" fill="#000"/>
<rect x="462.5" y="2642" width="101.9" height="1" fill="#000"/>
<rect x="462.5" y="2648" width="101.9" height="1" fill="#000"/>
<rect x="462.5" y="2653.6" width="101.9" height="1.8" fill="#000"/>
<rect x="462.5" y="2660" width="101.9" height="1" fill="#000"/>
<rect x="462.5" y="2666" width="101.9" height="1" fill="#000"/>
<rect x="462.5" y="2672" width="101.9" height="1" fill="#000"/>
<rect x="462.5" y="2678" width="101.9" height="1" fill="#000"/>
<rect x="462.5" y="2683.7" width="101.9" height="1.6" fill="#000"/>
<rect x="462.5" y="2702" width="101.9" height="1" fill="#000"/>
<rect x="462.5" y="2709" width="101.9" height="1" fill="#000"/>
<rect x="462.5" y="2713.6" width="101.9" height="1.8" fill="#000"/>
<rect x="462.5" y="2721" width="101.9" height="1" fill="#000"/>
<rect x="462.5" y="2726" width="101.9" height="1" fill="#000"/>
<rect x="462.5" y="2733" width="101.9" height="1" fill="#000"/>
<rect x="462.5" y="2738" width="101.9" height="1" fill="#000"/>
<rect x="462.5" y="2744.7" width="101.9" height="1.6" fill="#000"/>
<rect x="462.5" y="2750" width="101.9" height="1" fill="#000"/>
<rect x="462.5" y="2756.7" width="101.9" height="1.6" fill="#000"/>
<rect x="462.5" y="2773.6" width="101.9" height="1.8" fill="#000"/>
<rect x="462.5" y="2781" width="101.9" height="1" fill="#000"/>
<rect x="462.5" y="2786" width="101.9" height="1" fill="#000"/>
<rect x="462.5" y="2793" width="101.9" height="1" fill="#000"/>
<rect x="462.5" y="2798" width="101.9" height="1" fill="#000"/>
<rect x="462.5" y="2804.7" width="101.9" height="1.6" fill="#000"/>
<rect x="462.5" y="2811" width="101.9" height="1" fill="#000"/>
<rect x="462.5" y="2816.7" width="101.9" height="1.6" fill="#000"/>
<rect x="462.5" y="2823" width="101.9" height="1" fill="#000"/>
<rect x="462.5" y="2829" width="101.9" height="1" fill="#000"/>
<rect x="462.5" y="2847" width="101.9" height="1" fill="#000"/>
<rect x="462.5" y="2853" width="101.9" height="1" fill="#000"/>
<rect x="462.5" y="2859" width="101.9" height="1" fill="#000"/>
<rect x="462.5" y="2864.7" width="101.9" height="1.6" fill="#000"/>
<rect x="462.5" y="2871" width="101.9" height="1" fill="#000"/>
<rect x="462.5" y="2876.7" width="101.9" height="1.6" fill="#000"/>
<rect x="462.5" y="2883" width="101.9" height="1" fill="#000"/>
<rect x="462.5" y="2889" width="101.9" height="1" fill="#000"/>
<rect x="462.5" y="2894.6" width="101.9" height="1.8" fill="#000"/>
<rect x="462.5" y="2901" width="101.9" height="1" fill="#000"/>
<rect x="455.3" y="2461.5" width="117.2" height="6" rx="2.2" ry="2.2" fill="#fff" stroke="#000" stroke-width="1"/>
<rect x="455.3" y="2533.5" width="117.2" height="7" rx="2.2" ry="2.2" fill="#fff" stroke="#000" stroke-width="1"/>
<rect x="455.3" y="2690.5" width="117.2" height="6" rx="2.2" ry="2.2" fill="#fff" stroke="#000" stroke-width="1"/>
<rect x="455.3" y="2762.5" width="117.2" height="7" rx="2.2" ry="2.2" fill="#fff" stroke="#000" stroke-width="1"/>
<rect x="455.3" y="2835.5" width="117.2" height="6" rx="2.2" ry="2.2" fill="#fff" stroke="#000" stroke-width="1"/>
<rect x="828.1" y="2395.1" width="1" height="513.5" fill="#000"/>
<rect x="836.2" y="2395.1" width="1.4" height="513.5" fill="#000"/>
<rect x="969.2" y="2395.1" width="1" height="513.5" fill="#000"/>
<rect x="978.9" y="2395.1" width="1" height="513.5" fill="#000"/>
<rect x="828.1" y="2395.1" width="9.5" height="1.7" fill="#000"/>
<rect x="828.1" y="2907.6" width="9.5" height="1" fill="#000"/>
<rect x="969.2" y="2395.1" width="10.7" height="1.7" fill="#000"/>
<rect x="969.2" y="2907.6" width="10.7" height="1" fill="#000"/>
<rect x="836.9" y="2401" width="132.8" height="1" fill="#000"/>
<rect x="836.9" y="2407" width="132.8" height="1" fill="#000"/>
<rect x="836.9" y="2412.6" width="132.8" height="1.8" fill="#000"/>
<rect x="836.9" y="2419" width="132.8" height="1" fill="#000"/>
<rect x="836.9" y="2425" width="132.8" height="1" fill="#000"/>
<rect x="836.9" y="2431" width="132.8" height="1" fill="#000"/>
<rect x="836.9" y="2437" width="132.8" height="1" fill="#000"/>
<rect x="836.9" y="2442.7" width="132.8" height="1.6" fill="#000"/>
<rect x="836.9" y="2449" width="132.8" height="1" fill="#000"/>
<rect x="836.9" y="2455.7" width="132.8" height="1.6" fill="#000"/>
<rect x="836.9" y="2472.6" width="132.8" height="1.8" fill="#000"/>
<rect x="836.9" y="2480" width="132.8" height="1" fill="#000"/>
<rect x="836.9" y="2485" width="132.8" height="1" fill="#000"/>
<rect x="836.9" y="2492" width="132.8" height="1" fill="#000"/>
<rect x="836.9" y="2497" width="132.8" height="1" fill="#000"/>
<rect x="836.9" y="2503.7" width="132.8" height="1.6" fill="#000"/>
<rect x="836.9" y="2509" width="132.8" height="1" fill="#000"/>
<rect x="836.9" y="2515.7" width="132.8" height="1.6" fill="#000"/>
<rect x="836.9" y="2521" width="132.8" height="1" fill="#000"/>
<rect x="836.9" y="2528" width="132.8" height="1" fill="#000"/>
<rect x="836.9" y="2545" width="132.8" height="1" fill="#000"/>
<rect x="836.9" y="2552" width="132.8" height="1" fill="#000"/>
<rect x="836.9" y="2557" width="132.8" height="1" fill="#000"/>
<rect x="836.9" y="2563.7" width="132.8" height="1.6" fill="#000"/>
<rect x="836.9" y="2570" width="132.8" height="1" fill="#000"/>
<rect x="836.9" y="2575.7" width="132.8" height="1.6" fill="#000"/>
<rect x="836.9" y="2582" width="132.8" height="1" fill="#000"/>
<rect x="836.9" y="2588" width="132.8" height="1" fill="#000"/>
<rect x="836.9" y="2593.6" width="132.8" height="1.8" fill="#000"/>
<rect x="836.9" y="2600" width="132.8" height="1" fill="#000"/>
<rect x="836.9" y="2630" width="132.8" height="1" fill="#000"/>
<rect x="836.9" y="2635.7" width="132.8" height="1.6" fill="#000"/>
<rect x="836.9" y="2642" width="132.8" height="1" fill="#000"/>
<rect x="836.9" y="2648" width="132.8" height="1" fill="#000"/>
<rect x="836.9" y="2653.6" width="132.8" height="1.8" fill="#000"/>
<rect x="836.9" y="2660" width="132.8" height="1" fill="#000"/>
<rect x="836.9" y="2666" width="132.8" height="1" fill="#000"/>
<rect x="836.9" y="2672" width="132.8" height="1" fill="#000"/>
<rect x="836.9" y="2678" width="132.8" height="1" fill="#000"/>
<rect x="836.9" y="2683.7" width="132.8" height="1.6" fill="#000"/>
<rect x="836.9" y="2702" width="132.8" height="1" fill="#000"/>
<rect x="836.9" y="2709" width="132.8" height="1" fill="#000"/>
<rect x="836.9" y="2713.6" width="132.8" height="1.8" fill="#000"/>
<rect x="836.9" y="2721" width="132.8" height="1" fill="#000"/>
<rect x="836.9" y="2726" width="132.8" height="1" fill="#000"/>
<rect x="836.9" y="2733" width="132.8" height="1" fill="#000"/>
<rect x="836.9" y="2738" width="132.8" height="1" fill="#000"/>
<rect x="836.9" y="2744.7" width="132.8" height="1.6" fill="#000"/>
<rect x="836.9" y="2750" width="132.8" height="1" fill="#000"/>
<rect x="836.9" y="2756.7" width="132.8" height="1.6" fill="#000"/>
<rect x="836.9" y="2773.6" width="132.8" height="1.8" fill="#000"/>
<rect x="836.9" y="2781" width="132.8" height="1" fill="#000"/>
<rect x="836.9" y="2786" width="132.8" height="1" fill="#000"/>
<rect x="836.9" y="2793" width="132.8" height="1" fill="#000"/>
<rect x="836.9" y="2798" width="132.8" height="1" fill="#000"/>
<rect x="836.9" y="2804.7" width="132.8" height="1.6" fill="#000"/>
<rect x="836.9" y="2811" width="132.8" height="1" fill="#000"/>
<rect x="836.9" y="2816.7" width="132.8" height="1.6" fill="#000"/>
<rect x="836.9" y="2823" width="132.8" height="1" fill="#000"/>
<rect x="836.9" y="2829" width="132.8" height="1" fill="#000"/>
<rect x="836.9" y="2847" width="132.8" height="1" fill="#000"/>
<rect x="836.9" y="2853" width="132.8" height="1" fill="#000"/>
<rect x="836.9" y="2859" width="132.8" height="1" fill="#000"/>
<rect x="836.9" y="2864.7" width="132.8" height="1.6" fill="#000"/>
<rect x="836.9" y="2871" width="132.8" height="1" fill="#000"/>
<rect x="836.9" y="2876.7" width="132.8" height="1.6" fill="#000"/>
<rect x="836.9" y="2883" width="132.8" height="1" fill="#000"/>
<rect x="836.9" y="2889" width="132.8" height="1" fill="#000"/>
<rect x="836.9" y="2894.6" width="132.8" height="1.8" fill="#000"/>
<rect x="836.9" y="2901" width="132.8" height="1" fill="#000"/>
<rect x="830.6" y="2461.5" width="146.8" height="6" rx="2.2" ry="2.2" fill="#fff" stroke="#000" stroke-width="1"/>
<rect x="830.6" y="2533.5" width="146.8" height="7" rx="2.2" ry="2.2" fill="#fff" stroke="#000" stroke-width="1"/>
<rect x="830.6" y="2690.5" width="146.8" height="6" rx="2.2" ry="2.2" fill="#fff" stroke="#000" stroke-width="1"/>
<rect x="830.6" y="2762.5" width="146.8" height="7" rx="2.2" ry="2.2" fill="#fff" stroke="#000" stroke-width="1"/>
<rect x="830.6" y="2835.5" width="146.8" height="6" rx="2.2" ry="2.2" fill="#fff" stroke="#000" stroke-width="1"/>
<rect x="1231.3" y="2395.1" width="1" height="513.5" fill="#000"/>
<rect x="1240.2" y="2395.1" width="1.6" height="513.5" fill="#000"/>
<rect x="1402.4" y="2395.1" width="1" height="513.5" fill="#000"/>
<rect x="1411.9" y="2395.1" width="1" height="513.5" fill="#000"/>
<rect x="1231.3" y="2395.1" width="10.5" height="1.7" fill="#000"/>
<rect x="1231.3" y="2907.6" width="10.5" height="1" fill="#000"/>
<rect x="1402.4" y="2395.1" width="10.5" height="1.7" fill="#000"/>
<rect x="1402.4" y="2907.6" width="10.5" height="1" fill="#000"/>
<rect x="1241" y="2401" width="161.9" height="1" fill="#000"/>
<rect x="1241" y="2407" width="161.9" height="1" fill="#000"/>
<rect x="1241" y="2412.6" width="161.9" height="1.8" fill="#000"/>
<rect x="1241" y="2419" width="161.9" height="1" fill="#000"/>
<rect x="1241" y="2425" width="161.9" height="1" fill="#000"/>
<rect x="1241" y="2431" width="161.9" height="1" fill="#000"/>
<rect x="1241" y="2437" width="161.9" height="1" fill="#000"/>
<rect x="1241" y="2442.7" width="161.9" height="1.6" fill="#000"/>
<rect x="1241" y="2449" width="161.9" height="1" fill="#000"/>
<rect x="1241" y="2455.7" width="161.9" height="1.6" fill="#000"/>
<rect x="1241" y="2472.6" width="161.9" height="1.8" fill="#000"/>
<rect x="1241" y="2480" width="161.9" height="1" fill="#000"/>
<rect x="1241" y="2485" width="161.9" height="1" fill="#000"/>
<rect x="1241" y="2492" width="161.9" height="1" fill="#000"/>
<rect x="1241" y="2497" width="161.9" height="1" fill="#000"/>
<rect x="1241" y="2503.7" width="161.9" height="1.6" fill="#000"/>
<rect x="1241" y="2509" width="161.9" height="1" fill="#000"/>
<rect x="1241" y="2515.7" width="161.9" height="1.6" fill="#000"/>
<rect x="1241" y="2521" width="161.9" height="1" fill="#000"/>
<rect x="1241" y="2528" width="161.9" height="1" fill="#000"/>
<rect x="1241" y="2545" width="161.9" height="1" fill="#000"/>
<rect x="1241" y="2552" width="161.9" height="1" fill="#000"/>
<rect x="1241" y="2557" width="161.9" height="1" fill="#000"/>
<rect x="1241" y="2563.7" width="161.9" height="1.6" fill="#000"/>
<rect x="1241" y="2570" width="161.9" height="1" fill="#000"/>
<rect x="1241" y="2575.7" width="161.9" height="1.6" fill="#000"/>
<rect x="1241" y="2582" width="161.9" height="1" fill="#000"/>
<rect x="1241" y="2588" width="161.9" height="1" fill="#000"/>
<rect x="1241" y="2593.6" width="161.9" height="1.8" fill="#000"/>
<rect x="1241" y="2600" width="161.9" height="1" fill="#000"/>
<rect x="1241" y="2630" width="161.9" height="1" fill="#000"/>
<rect x="1241" y="2635.7" width="161.9" height="1.6" fill="#000"/>
<rect x="1241" y="2642" width="161.9" height="1" fill="#000"/>
<rect x="1241" y="2648" width="161.9" height="1" fill="#000"/>
<rect x="1241" y="2653.6" width="161.9" height="1.8" fill="#000"/>
<rect x="1241" y="2660" width="161.9" height="1" fill="#000"/>
<rect x="1241" y="2666" width="161.9" height="1" fill="#000"/>
<rect x="1241" y="2672" width="161.9" height="1" fill="#000"/>
<rect x="1241" y="2678" width="161.9" height="1" fill="#000"/>
<rect x="1241" y="2683.7" width="161.9" height="1.6" fill="#000"/>
<rect x="1241" y="2702" width="161.9" height="1" fill="#000"/>
<rect x="1241" y="2709" width="161.9" height="1" fill="#000"/>
<rect x="1241" y="2713.6" width="161.9" height="1.8" fill="#000"/>
<rect x="1241" y="2721" width="161.9" height="1" fill="#000"/>
<rect x="1241" y="2726" width="161.9" height="1" fill="#000"/>
<rect x="1241" y="2733" width="161.9" height="1" fill="#000"/>
<rect x="1241" y="2738" width="161.9" height="1" fill="#000"/>
<rect x="1241" y="2744.7" width="161.9" height="1.6" fill="#000"/>
<rect x="1241" y="2750" width="161.9" height="1" fill="#000"/>
<rect x="1241" y="2756.7" width="161.9" height="1.6" fill="#000"/>
<rect x="1241" y="2773.6" width="161.9" height="1.8" fill="#000"/>
<rect x="1241" y="2781" width="161.9" height="1" fill="#000"/>
<rect x="1241" y="2786" width="161.9" height="1" fill="#000"/>
<rect x="1241" y="2793" width="161.9" height="1" fill="#000"/>
<rect x="1241" y="2798" width="161.9" height="1" fill="#000"/>
<rect x="1241" y="2804.7" width="161.9" height="1.6" fill="#000"/>
<rect x="1241" y="2811" width="161.9" height="1" fill="#000"/>
<rect x="1241" y="2816.7" width="161.9" height="1.6" fill="#000"/>
<rect x="1241" y="2823" width="161.9" height="1" fill="#000"/>
<rect x="1241" y="2829" width="161.9" height="1" fill="#000"/>
<rect x="1241" y="2847" width="161.9" height="1" fill="#000"/>
<rect x="1241" y="2853" width="161.9" height="1" fill="#000"/>
<rect x="1241" y="2859" width="161.9" height="1" fill="#000"/>
<rect x="1241" y="2864.7" width="161.9" height="1.6" fill="#000"/>
<rect x="1241" y="2871" width="161.9" height="1" fill="#000"/>
<rect x="1241" y="2876.7" width="161.9" height="1.6" fill="#000"/>
<rect x="1241" y="2883" width="161.9" height="1" fill="#000"/>
<rect x="1241" y="2889" width="161.9" height="1" fill="#000"/>
<rect x="1241" y="2894.6" width="161.9" height="1.8" fill="#000"/>
<rect x="1241" y="2901" width="161.9" height="1" fill="#000"/>
<rect x="1233.8" y="2461.5" width="176.6" height="6" rx="2.2" ry="2.2" fill="#fff" stroke="#000" stroke-width="1"/>
<rect x="1233.8" y="2533.5" width="176.6" height="7" rx="2.2" ry="2.2" fill="#fff" stroke="#000" stroke-width="1"/>
<rect x="1233.8" y="2690.5" width="176.6" height="6" rx="2.2" ry="2.2" fill="#fff" stroke="#000" stroke-width="1"/>
<rect x="1233.8" y="2762.5" width="176.6" height="7" rx="2.2" ry="2.2" fill="#fff" stroke="#000" stroke-width="1"/>
<rect x="1233.8" y="2835.5" width="176.6" height="6" rx="2.2" ry="2.2" fill="#fff" stroke="#000" stroke-width="1"/>
<rect x="1666.3" y="2395.1" width="1" height="513.5" fill="#000"/>
<rect x="1675.8" y="2395.1" width="1" height="513.5" fill="#000"/>
<rect x="1868" y="2395.1" width="1" height="513.5" fill="#000"/>
<rect x="1876.9" y="2395.1" width="1.8" height="513.5" fill="#000"/>
<rect x="1666.3" y="2395.1" width="10.5" height="1.7" fill="#000"/>
<rect x="1666.3" y="2907.6" width="10.5" height="1" fill="#000"/>
<rect x="1868" y="2395.1" width="10.7" height="1.7" fill="#000"/>
<rect x="1868" y="2907.6" width="10.7" height="1" fill="#000"/>
<rect x="1676.3" y="2401" width="192.2" height="1" fill="#000"/>
<rect x="1676.3" y="2407" width="192.2" height="1" fill="#000"/>
<rect x="1676.3" y="2412.6" width="192.2" height="1.8" fill="#000"/>
<rect x="1676.3" y="2419" width="192.2" height="1" fill="#000"/>
<rect x="1676.3" y="2425" width="192.2" height="1" fill="#000"/>
<rect x="1676.3" y="2431" width="192.2" height="1" fill="#000"/>
<rect x="1676.3" y="2437" width="192.2" height="1" fill="#000"/>
<rect x="1676.3" y="2442.7" width="192.2" height="1.6" fill="#000"/>
<rect x="1676.3" y="2449" width="192.2" height="1" fill="#000"/>
<rect x="1676.3" y="2455.7" width="192.2" height="1.6" fill="#000"/>
<rect x="1676.3" y="2472.6" width="192.2" height="1.8" fill="#000"/>
<rect x="1676.3" y="2480" width="192.2" height="1" fill="#000"/>
<rect x="1676.3" y="2485" width="192.2" height="1" fill="#000"/>
<rect x="1676.3" y="2492" width="192.2" height="1" fill="#000"/>
<rect x="1676.3" y="2497" width="192.2" height="1" fill="#000"/>
<rect x="1676.3" y="2503.7" width="192.2" height="1.6" fill="#000"/>
<rect x="1676.3" y="2509" width="192.2" height="1" fill="#000"/>
<rect x="1676.3" y="2515.7" width="192.2" height="1.6" fill="#000"/>
<rect x="1676.3" y="2521" width="192.2" height="1" fill="#000"/>
<rect x="1676.3" y="2528" width="192.2" height="1" fill="#000"/>
<rect x="1676.3" y="2545" width="192.2" height="1" fill="#000"/>
<rect x="1676.3" y="2552" width="192.2" height="1" fill="#000"/>
<rect x="1676.3" y="2557" width="192.2" height="1" fill="#000"/>
<rect x="1676.3" y="2563.7" width="192.2" height="1.6" fill="#000"/>
<rect x="1676.3" y="2570" width="192.2" height="1" fill="#000"/>
<rect x="1676.3" y="2575.7" width="192.2" height="1.6" fill="#000"/>
<rect x="1676.3" y="2582" width="192.2" height="1" fill="#000"/>
<rect x="1676.3" y="2588" width="192.2" height="1" fill="#000"/>
<rect x="1676.3" y="2593.6" width="192.2" height="1.8" fill="#000"/>
<rect x="1676.3" y="2600" width="192.2" height="1" fill="#000"/>
<rect x="1676.3" y="2630" width="192.2" height="1" fill="#000"/>
<rect x="1676.3" y="2635.7" width="192.2" height="1.6" fill="#000"/>
<rect x="1676.3" y="2642" width="192.2" height="1" fill="#000"/>
<rect x="1676.3" y="2648" width="192.2" height="1" fill="#000"/>
<rect x="1676.3" y="2653.6" width="192.2" height="1.8" fill="#000"/>
<rect x="1676.3" y="2660" width="192.2" height="1" fill="#000"/>
<rect x="1676.3" y="2666" width="192.2" height="1" fill="#000"/>
<rect x="1676.3" y="2672" width="192.2" height="1" fill="#000"/>
<rect x="1676.3" y="2678" width="192.2" height="1" fill="#000"/>
<rect x="1676.3" y="2683.7" width="192.2" height="1.6" fill="#000"/>
<rect x="1676.3" y="2702" width="192.2" height="1" fill="#000"/>
<rect x="1676.3" y="2709" width="192.2" height="1" fill="#000"/>
<rect x="1676.3" y="2713.6" width="192.2" height="1.8" fill="#000"/>
<rect x="1676.3" y="2721" width="192.2" height="1" fill="#000"/>
<rect x="1676.3" y="2726" width="192.2" height="1" fill="#000"/>
<rect x="1676.3" y="2733" width="192.2" height="1" fill="#000"/>
<rect x="1676.3" y="2738" width="192.2" height="1" fill="#000"/>
<rect x="1676.3" y="2744.7" width="192.2" height="1.6" fill="#000"/>
<rect x="1676.3" y="2750" width="192.2" height="1" fill="#000"/>
<rect x="1676.3" y="2756.7" width="192.2" height="1.6" fill="#000"/>
<rect x="1676.3" y="2773.6" width="192.2" height="1.8" fill="#000"/>
<rect x="1676.3" y="2781" width="192.2" height="1" fill="#000"/>
<rect x="1676.3" y="2786" width="192.2" height="1" fill="#000"/>
<rect x="1676.3" y="2793" width="192.2" height="1" fill="#000"/>
<rect x="1676.3" y="2798" width="192.2" height="1" fill="#000"/>
<rect x="1676.3" y="2804.7" width="192.2" height="1.6" fill="#000"/>
<rect x="1676.3" y="2811" width="192.2" height="1" fill="#000"/>
<rect x="1676.3" y="2816.7" width="192.2" height="1.6" fill="#000"/>
<rect x="1676.3" y="2823" width="192.2" height="1" fill="#000"/>
<rect x="1676.3" y="2829" width="192.2" height="1" fill="#000"/>
<rect x="1676.3" y="2847" width="192.2" height="1" fill="#000"/>
<rect x="1676.3" y="2853" width="192.2" height="1" fill="#000"/>
<rect x="1676.3" y="2859" width="192.2" height="1" fill="#000"/>
<rect x="1676.3" y="2864.7" width="192.2" height="1.6" fill="#000"/>
<rect x="1676.3" y="2871" width="192.2" height="1" fill="#000"/>
<rect x="1676.3" y="2876.7" width="192.2" height="1.6" fill="#000"/>
<rect x="1676.3" y="2883" width="192.2" height="1" fill="#000"/>
<rect x="1676.3" y="2889" width="192.2" height="1" fill="#000"/>
<rect x="1676.3" y="2894.6" width="192.2" height="1.8" fill="#000"/>
<rect x="1676.3" y="2901" width="192.2" height="1" fill="#000"/>
<rect x="1668.8" y="2461.5" width="207" height="6" rx="2.2" ry="2.2" fill="#fff" stroke="#000" stroke-width="1"/>
<rect x="1668.8" y="2533.5" width="207" height="7" rx="2.2" ry="2.2" fill="#fff" stroke="#000" stroke-width="1"/>
<rect x="1668.8" y="2690.5" width="207" height="6" rx="2.2" ry="2.2" fill="#fff" stroke="#000" stroke-width="1"/>
<rect x="1668.8" y="2762.5" width="207" height="7" rx="2.2" ry="2.2" fill="#fff" stroke="#000" stroke-width="1"/>
<rect x="1668.8" y="2835.5" width="207" height="6" rx="2.2" ry="2.2" fill="#fff" stroke="#000" stroke-width="1"/>
</g>
<g class="t">
<text class="lab" x="76.5" y="2082.16" font-size="29.6" text-anchor="middle">5</text>
<rect x="75.7" y="2099.76" width="2" height="20.72" fill="#111"/>
<text class="lab" x="76.5" y="2157" font-size="29.6" text-anchor="middle">1W</text>
<rect x="75.7" y="2174.59" width="2" height="20.72" fill="#111"/>
<text class="lab" x="76.5" y="2231.83" font-size="29.6" text-anchor="middle">5</text>
<rect x="75.7" y="2249.43" width="2" height="20.72" fill="#111"/>
<text class="lab" x="76.5" y="2306.67" font-size="29.6" text-anchor="middle">1W</text>
<rect x="75.7" y="2324.27" width="2" height="20.72" fill="#111"/>
<text class="lab" x="76.5" y="2381.51" font-size="29.6" text-anchor="middle">5</text>
<rect x="75.7" y="2399.1" width="2" height="20.72" fill="#111"/>
<text class="lab" x="76.5" y="2456.34" font-size="29.6" text-anchor="middle">5</text>
<rect x="75.7" y="2473.94" width="2" height="20.72" fill="#111"/>
<text class="lab" x="76.5" y="2531.18" font-size="29.6" text-anchor="middle">1W</text>
<rect x="75.7" y="2548.78" width="2" height="20.72" fill="#111"/>
<text class="lab" x="76.5" y="2606.01" font-size="29.6" text-anchor="middle">5</text>
<rect x="75.7" y="2623.61" width="2" height="20.72" fill="#111"/>
<text class="lab" x="76.5" y="2680.85" font-size="29.6" text-anchor="middle">1W</text>
<rect x="75.7" y="2698.45" width="2" height="20.72" fill="#111"/>
<text class="lab" x="76.5" y="2755.69" font-size="29.6" text-anchor="middle">5</text>
<rect x="75.7" y="2773.29" width="2" height="20.72" fill="#111"/>
<text class="lab" x="76.5" y="2830.52" font-size="29.6" text-anchor="middle">1W</text>
<rect x="75.7" y="2848.12" width="2" height="20.72" fill="#111"/>
<text class="lab" x="76.5" y="2905.36" font-size="29.6" text-anchor="middle">5</text>
<text class="dim" x="103.98" y="2960.42" font-size="33.5" letter-spacing="0.1">1700 x 300</text>
<text class="lab" x="420.4" y="2082.16" font-size="29.6" text-anchor="middle">5</text>
<rect x="419.6" y="2099.76" width="2" height="20.72" fill="#111"/>
<text class="lab" x="420.4" y="2157" font-size="29.6" text-anchor="middle">1W</text>
<rect x="419.6" y="2174.59" width="2" height="20.72" fill="#111"/>
<text class="lab" x="420.4" y="2231.83" font-size="29.6" text-anchor="middle">5</text>
<rect x="419.6" y="2249.43" width="2" height="20.72" fill="#111"/>
<text class="lab" x="420.4" y="2306.67" font-size="29.6" text-anchor="middle">1W</text>
<rect x="419.6" y="2324.27" width="2" height="20.72" fill="#111"/>
<text class="lab" x="420.4" y="2381.51" font-size="29.6" text-anchor="middle">5</text>
<rect x="419.6" y="2399.1" width="2" height="20.72" fill="#111"/>
<text class="lab" x="420.4" y="2456.34" font-size="29.6" text-anchor="middle">5</text>
<rect x="419.6" y="2473.94" width="2" height="20.72" fill="#111"/>
<text class="lab" x="420.4" y="2531.18" font-size="29.6" text-anchor="middle">1W</text>
<rect x="419.6" y="2548.78" width="2" height="20.72" fill="#111"/>
<text class="lab" x="420.4" y="2606.01" font-size="29.6" text-anchor="middle">5</text>
<rect x="419.6" y="2623.61" width="2" height="20.72" fill="#111"/>
<text class="lab" x="420.4" y="2680.85" font-size="29.6" text-anchor="middle">1W</text>
<rect x="419.6" y="2698.45" width="2" height="20.72" fill="#111"/>
<text class="lab" x="420.4" y="2755.69" font-size="29.6" text-anchor="middle">5</text>
<rect x="419.6" y="2773.29" width="2" height="20.72" fill="#111"/>
<text class="lab" x="420.4" y="2830.52" font-size="29.6" text-anchor="middle">1W</text>
<rect x="419.6" y="2848.12" width="2" height="20.72" fill="#111"/>
<text class="lab" x="420.4" y="2905.36" font-size="29.6" text-anchor="middle">5</text>
<text class="dim" x="448.28" y="2960.42" font-size="33.5" letter-spacing="0.1">1700 x 400</text>
<text class="lab" x="795.5" y="2082.16" font-size="29.6" text-anchor="middle">5</text>
<rect x="794.7" y="2099.76" width="2" height="20.72" fill="#111"/>
<text class="lab" x="795.5" y="2157" font-size="29.6" text-anchor="middle">1W</text>
<rect x="794.7" y="2174.59" width="2" height="20.72" fill="#111"/>
<text class="lab" x="795.5" y="2231.83" font-size="29.6" text-anchor="middle">5</text>
<rect x="794.7" y="2249.43" width="2" height="20.72" fill="#111"/>
<text class="lab" x="795.5" y="2306.67" font-size="29.6" text-anchor="middle">1W</text>
<rect x="794.7" y="2324.27" width="2" height="20.72" fill="#111"/>
<text class="lab" x="795.5" y="2381.51" font-size="29.6" text-anchor="middle">5</text>
<rect x="794.7" y="2399.1" width="2" height="20.72" fill="#111"/>
<text class="lab" x="795.5" y="2456.34" font-size="29.6" text-anchor="middle">5</text>
<rect x="794.7" y="2473.94" width="2" height="20.72" fill="#111"/>
<text class="lab" x="795.5" y="2531.18" font-size="29.6" text-anchor="middle">1W</text>
<rect x="794.7" y="2548.78" width="2" height="20.72" fill="#111"/>
<text class="lab" x="795.5" y="2606.01" font-size="29.6" text-anchor="middle">5</text>
<rect x="794.7" y="2623.61" width="2" height="20.72" fill="#111"/>
<text class="lab" x="795.5" y="2680.85" font-size="29.6" text-anchor="middle">1W</text>
<rect x="794.7" y="2698.45" width="2" height="20.72" fill="#111"/>
<text class="lab" x="795.5" y="2755.69" font-size="29.6" text-anchor="middle">5</text>
<rect x="794.7" y="2773.29" width="2" height="20.72" fill="#111"/>
<text class="lab" x="795.5" y="2830.52" font-size="29.6" text-anchor="middle">1W</text>
<rect x="794.7" y="2848.12" width="2" height="20.72" fill="#111"/>
<text class="lab" x="795.5" y="2905.36" font-size="29.6" text-anchor="middle">5</text>
<text class="dim" x="823.48" y="2960.42" font-size="33.5" letter-spacing="0.1">1700 x 500</text>
<text class="lab" x="1199.2" y="2082.16" font-size="29.6" text-anchor="middle">5</text>
<rect x="1198.4" y="2099.76" width="2" height="20.72" fill="#111"/>
<text class="lab" x="1199.2" y="2157" font-size="29.6" text-anchor="middle">1W</text>
<rect x="1198.4" y="2174.59" width="2" height="20.72" fill="#111"/>
<text class="lab" x="1199.2" y="2231.83" font-size="29.6" text-anchor="middle">5</text>
<rect x="1198.4" y="2249.43" width="2" height="20.72" fill="#111"/>
<text class="lab" x="1199.2" y="2306.67" font-size="29.6" text-anchor="middle">1W</text>
<rect x="1198.4" y="2324.27" width="2" height="20.72" fill="#111"/>
<text class="lab" x="1199.2" y="2381.51" font-size="29.6" text-anchor="middle">5</text>
<rect x="1198.4" y="2399.1" width="2" height="20.72" fill="#111"/>
<text class="lab" x="1199.2" y="2456.34" font-size="29.6" text-anchor="middle">5</text>
<rect x="1198.4" y="2473.94" width="2" height="20.72" fill="#111"/>
<text class="lab" x="1199.2" y="2531.18" font-size="29.6" text-anchor="middle">1W</text>
<rect x="1198.4" y="2548.78" width="2" height="20.72" fill="#111"/>
<text class="lab" x="1199.2" y="2606.01" font-size="29.6" text-anchor="middle">5</text>
<rect x="1198.4" y="2623.61" width="2" height="20.72" fill="#111"/>
<text class="lab" x="1199.2" y="2680.85" font-size="29.6" text-anchor="middle">1W</text>
<rect x="1198.4" y="2698.45" width="2" height="20.72" fill="#111"/>
<text class="lab" x="1199.2" y="2755.69" font-size="29.6" text-anchor="middle">5</text>
<rect x="1198.4" y="2773.29" width="2" height="20.72" fill="#111"/>
<text class="lab" x="1199.2" y="2830.52" font-size="29.6" text-anchor="middle">1W</text>
<rect x="1198.4" y="2848.12" width="2" height="20.72" fill="#111"/>
<text class="lab" x="1199.2" y="2905.36" font-size="29.6" text-anchor="middle">5</text>
<text class="dim" x="1227.88" y="2960.42" font-size="33.5" letter-spacing="0.1">1700 x 600</text>
<text class="lab" x="1634.7" y="2082.16" font-size="29.6" text-anchor="middle">5</text>
<rect x="1633.9" y="2099.76" width="2" height="20.72" fill="#111"/>
<text class="lab" x="1634.7" y="2157" font-size="29.6" text-anchor="middle">1W</text>
<rect x="1633.9" y="2174.59" width="2" height="20.72" fill="#111"/>
<text class="lab" x="1634.7" y="2231.83" font-size="29.6" text-anchor="middle">5</text>
<rect x="1633.9" y="2249.43" width="2" height="20.72" fill="#111"/>
<text class="lab" x="1634.7" y="2306.67" font-size="29.6" text-anchor="middle">1W</text>
<rect x="1633.9" y="2324.27" width="2" height="20.72" fill="#111"/>
<text class="lab" x="1634.7" y="2381.51" font-size="29.6" text-anchor="middle">5</text>
<rect x="1633.9" y="2399.1" width="2" height="20.72" fill="#111"/>
<text class="lab" x="1634.7" y="2456.34" font-size="29.6" text-anchor="middle">5</text>
<rect x="1633.9" y="2473.94" width="2" height="20.72" fill="#111"/>
<text class="lab" x="1634.7" y="2531.18" font-size="29.6" text-anchor="middle">1W</text>
<rect x="1633.9" y="2548.78" width="2" height="20.72" fill="#111"/>
<text class="lab" x="1634.7" y="2606.01" font-size="29.6" text-anchor="middle">5</text>
<rect x="1633.9" y="2623.61" width="2" height="20.72" fill="#111"/>
<text class="lab" x="1634.7" y="2680.85" font-size="29.6" text-anchor="middle">1W</text>
<rect x="1633.9" y="2698.45" width="2" height="20.72" fill="#111"/>
<text class="lab" x="1634.7" y="2755.69" font-size="29.6" text-anchor="middle">5</text>
<rect x="1633.9" y="2773.29" width="2" height="20.72" fill="#111"/>
<text class="lab" x="1634.7" y="2830.52" font-size="29.6" text-anchor="middle">1W</text>
<rect x="1633.9" y="2848.12" width="2" height="20.72" fill="#111"/>
<text class="lab" x="1634.7" y="2905.36" font-size="29.6" text-anchor="middle">5</text>
<text class="dim" x="1660.58" y="2960.42" font-size="33.5" letter-spacing="0.1">1700 x 700</text>
<path d="M115 2973.8V2999.3M106.6 2981.6L115 2973.6L123.4 2981.6M106.6 2991.5L115 2999.5L123.4 2991.5M215.7 2987.8H245.4M223.5 2979.4L215.5 2987.8L223.5 2996.2M237.6 2979.4L245.6 2987.8L237.6 2996.2" fill="none" stroke="#000" stroke-width="1.5" stroke-linejoin="miter"/>
</g>
</svg>
</body>
</html>
